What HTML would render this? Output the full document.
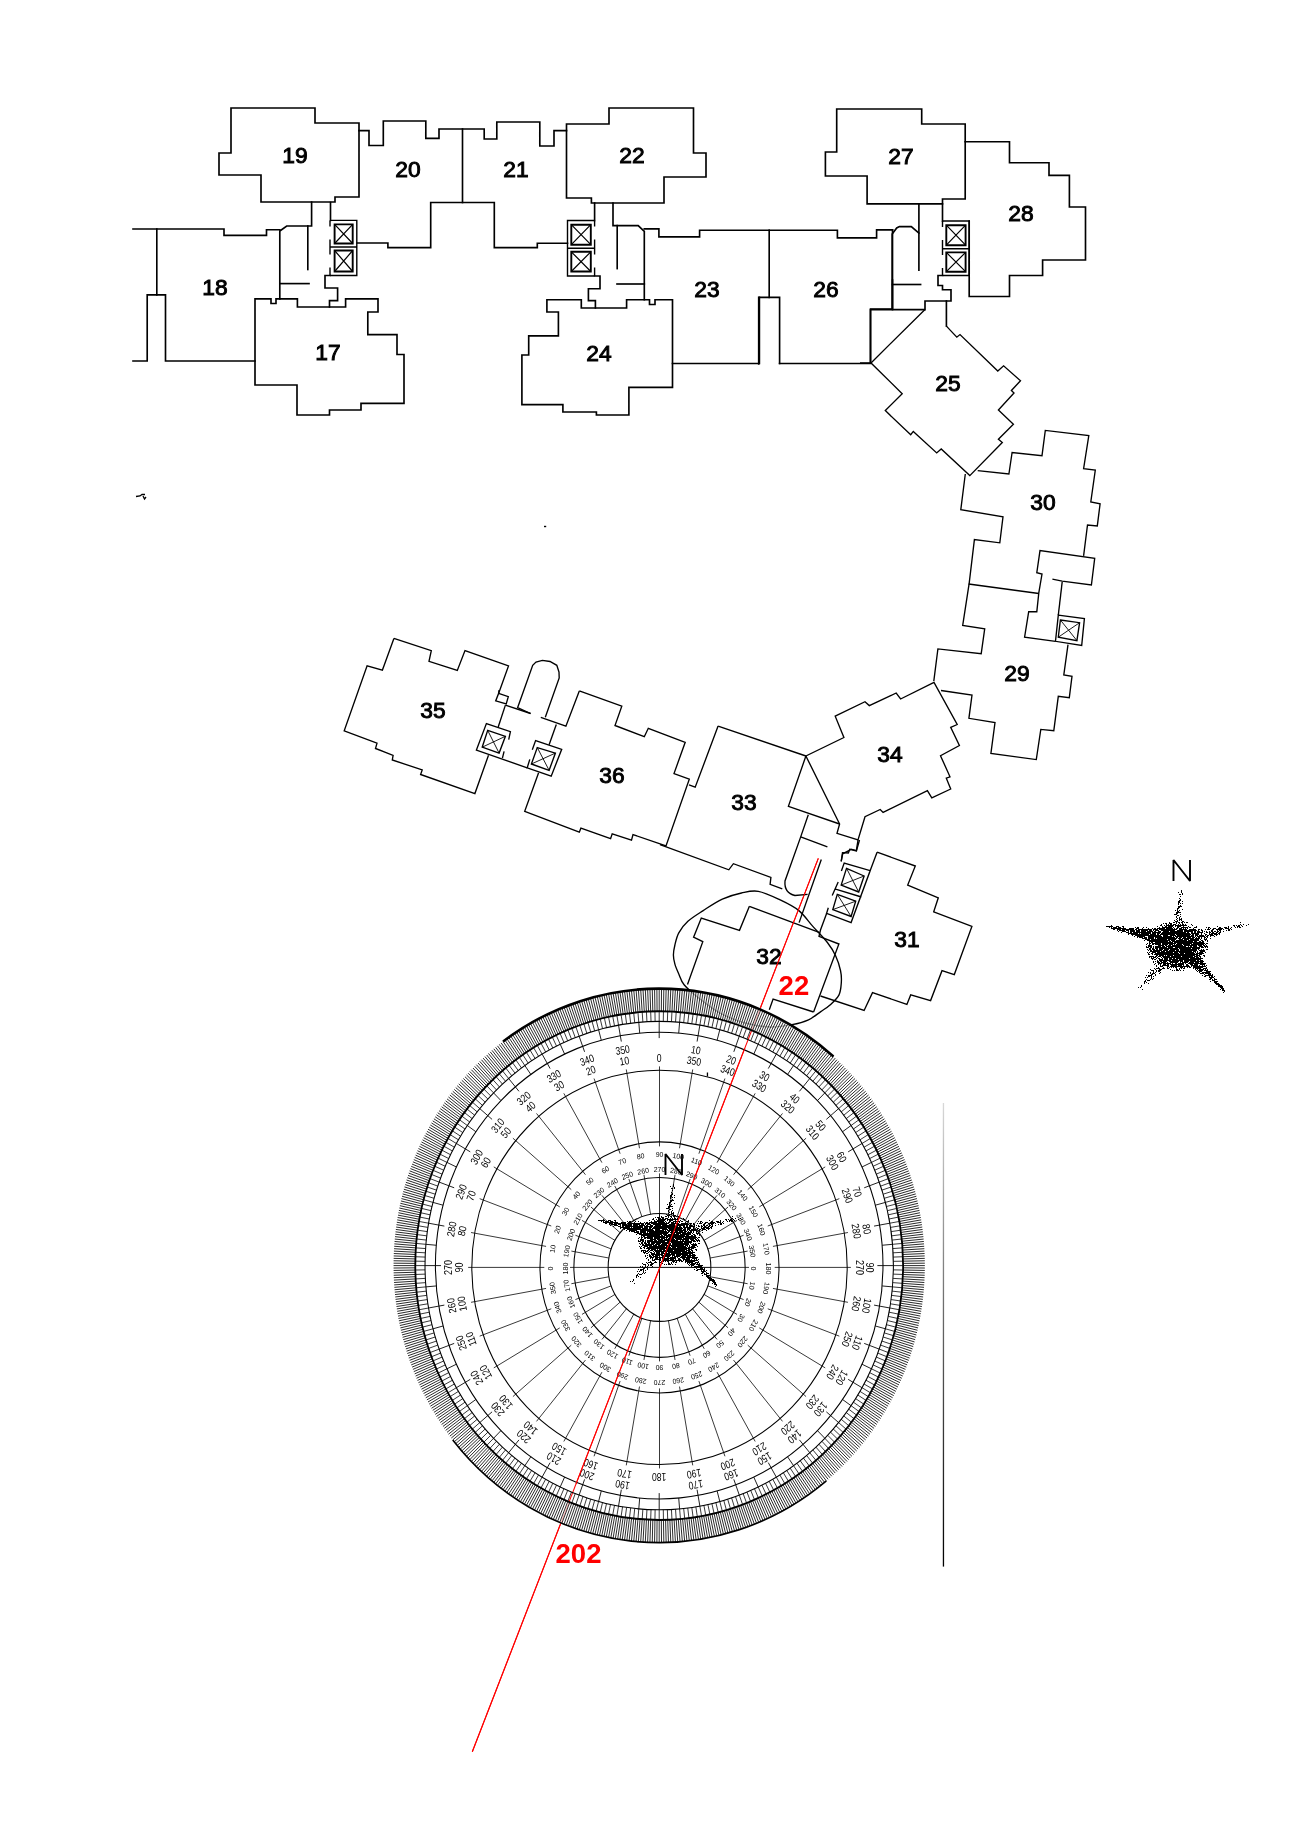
<!DOCTYPE html>
<html><head><meta charset="utf-8"><style>
html,body{margin:0;padding:0;background:#fff;}
body{width:1308px;height:1824px;position:relative;overflow:hidden;font-family:"Liberation Sans",sans-serif;}
</style></head><body>
<svg width="1308" height="1824" viewBox="0 0 1308 1824" style="position:absolute;left:0;top:0;will-change:transform"><defs><linearGradient id="vg" x1="0" y1="0" x2="0" y2="1"><stop offset="0" stop-color="#d8d8d8"/><stop offset="0.45" stop-color="#6a6a6a"/><stop offset="1" stop-color="#000"/></linearGradient></defs><path d="M818.3,858.4 L472.3,1751.7" stroke="#ff0000" stroke-width="1.05" fill="none"/><g fill="none" stroke="#000" stroke-width="1.65" stroke-linejoin="miter" stroke-linecap="square"><path d="M231,108 H315 V123 H359 V197 H335 V202 H261 V175 H219 V153 H231 Z"/><path d="M359,130.6 H369 V145.5 H383.3 V121 H425.8 V138.3 H439 V129 H484.2 V139 H496.8 V122 H539.8 V146 H554 V130.6 H566.5"/><path d="M462.5,129 V202.5"/><path d="M357.3,243 H387.9 V247.6 H430.7 V202.5 H494.3 V247.6 H537.3 V243.2 H567.5"/><path d="M566.5,124 H609 V108 H693.5 V153 H706 V177 H664 V203 H591.4 V198 H566.5 Z"/><path d="M311.6,202 V226 H286.7 L279.8,231 V298.8"/><path d="M133,229 H224 V235.4 H266.5 V229.7 H279.8"/><path d="M156.8,229 V294.9"/><path d="M133,361 H147.2 V294.9 H165.5 V361 H255"/><path d="M307.8,226 V269.5"/><path d="M280,283.6 H309"/><path d="M330.5,202.5 V220.4"/><path d="M255,298.8 V385 H297 V415 H329.5 V410 H361 V403.4 H404 V354.5 H397 V334.6 H367.8 V312 H378 V298.8 H345.6 V307 H297.4 V298.8 H276 V303.5 H271 V298.8 H255"/><path d="M329.5,307 V300.6 H337.6 V288 H325 V275.5 H330"/><path d="M594.6,203 V220.5"/><path d="M613,203 V225.6 H638.2 L644.3,231.4 V299.7"/><path d="M617.2,225.6 V268.6"/><path d="M617,284 H644.3"/><path d="M594.6,276 H600 V288.7 H588.4 V300.6 H595.4 V308"/><path d="M546.9,299.7 H581.3 V308 H626.6 V299.7 H649.5 V304.5 H655 V299.7 H672.5 V387.4 H628.9 V415 H596.4 V412 H562.9 V404.6 H521.9 V355 H528.7 V335.8 H558.4 V312 H546.9 Z"/><path d="M672.5,363.5 H759.4 V297.4"/><path d="M644.3,228.9 H658.9 V236.8 H699.6 V230.2 H837.4 V237.8 H876.6 V229.8 H892.5"/><path d="M769.2,230.2 V297.4"/><path d="M758.7,364 V297.4 H779.6 V363.5"/><path d="M779.6,363.5 H870.6 V309 H892.5 V229.8"/><path d="M892.5,284.5 H920.6"/><path d="M836.7,109 H921.7 V124 H965.2 V199 H942.5 V203.8 H867.1 V176 H825.4 V152 H836.7 Z"/><path d="M965.2,141.7 H1009.5 V162.7 H1049 V175.4 H1069.4 V207 H1085.5 V260 H1042.6 V275.5 H1009.5 V296.5 H969.2 V221"/><path d="M942.5,203.8 V221"/><path d="M918.9,203.8 V270.2"/><path d="M892.2,309 V234 L896.7,228 L899.4,226.6 H911.3 L918.9,233.2"/><path d="M942.5,275.5 H938 V285.5 H942.5 V289.7 H951 V301 H925 V309.6 H870.4 V363"/><path d="M946.4,301 V326.1"/><path d="M892.5,280 V309.6"/></g><g fill="none" stroke="#000" stroke-width="1.4" stroke-linecap="butt"><path d="M330,220.4 H356.8 V275.5 H330 M330,220.4 V226.4 M330,239.4 V254.4 M330,267.4 V275.5 M330,247.0 H356.8"/><path d="M594.6,220.5 H567.5 V276 H594.6 M594.6,220.5 V226.5 M594.6,239.5 V254.5 M594.6,267.5 V276 M567.5,248.25 H594.6"/><path d="M942.5,221 H969.2 V275.5 H942.5 M942.5,221 V227 M942.5,240 V255 M942.5,268 V275.5 M942.5,248.8 H969.2"/></g><g fill="none" stroke="#000" stroke-width="1.9"><path d="M334.6,224.4 H352.7 V243.5 H334.6 Z"/><path d="M334.6,250.5 H352.7 V271.5 H334.6 Z"/><path d="M571.3,224.7 H590.8 V244.7 H571.3 Z"/><path d="M571.3,251.8 H590.8 V271.5 H571.3 Z"/><path d="M946.3,225.2 H965.6 V245.2 H946.3 Z"/><path d="M946.3,252.4 H965.6 V271.7 H946.3 Z"/></g><g fill="none" stroke="#000" stroke-width="1.2" ><path d="M334.6,224.4 L352.7,243.5 M352.7,224.4 L334.6,243.5"/><path d="M334.6,250.5 L352.7,271.5 M352.7,250.5 L334.6,271.5"/><path d="M571.3,224.7 L590.8,244.7 M590.8,224.7 L571.3,244.7"/><path d="M571.3,251.8 L590.8,271.5 M590.8,251.8 L571.3,271.5"/><path d="M946.3,225.2 L965.6,245.2 M965.6,225.2 L946.3,245.2"/><path d="M946.3,252.4 L965.6,271.7 M965.6,252.4 L946.3,271.7"/></g><g fill="none" stroke="#000" stroke-width="1.35" stroke-linejoin="miter"><path d="M871,362.9 L925,309.6 M946.4,326.1 L956.8,337.2 L960,334.6 L997.8,371 L1003.6,365.8 L1020.5,380.7 L1011.4,390.5 L1014,393 L998.4,410 L1013.4,424.3 L998.4,439.2 L1002.3,442.5 L969.8,475.6 L941.2,449 L936.7,452.9 L913.3,431.4 L910.7,434.7 L885.3,410.6 L902.2,393.7 L871,362.9 H860"/><path d="M965.3,474 L960.8,509.7 L1003,516.8 L999.8,542.8 L974.4,539.6 L969.2,583.1 L962.7,625.5 L984.7,628.9 L981.2,653.7 L937.9,648.9 L933.8,681.2"/><path d="M977.7,470.7 L1008.9,474 L1012.1,452.5 L1042,455.7 L1045.3,430.4 L1088.8,435.6 L1083.6,468.7 L1095.3,470 L1090.8,501.9 L1100.1,503.8 L1097.3,525.9 L1087.5,525 L1083.6,555.8"/><path d="M1052.4,579.2 L1062.2,581.2 L1091.4,585 L1094.7,558.4 L1040,550.6 L1036.8,572.7 L1042,574 L1038.8,592.9 L1036.8,611.7 L1028.7,611.7 L1024.6,637.2 L1055.5,641.3"/><path d="M968.6,584 L1038.8,593.5"/><path d="M1062.2,581.8 L1058.3,615.1"/><path d="M1068,644.7 L1063.8,675 L1072,676.4 L1069.3,697.7 L1058.3,696.3 L1053.8,730.7 L1040.8,729.4 L1036.3,759.6 L990.9,753.4 L995,722.5 L968.9,718.3 L972,695 L941,690.5"/><path d="M934,682.3 L900.6,699 L896.2,693 L869.3,705.6 L865,701.7 L835.2,716.2 L843.9,737.5 L805.9,756 L839.6,824 L837,833.4 L858,840 L865,816.7 L880.2,809.5 L883.1,812.4 L927.4,790.6 L931.8,797.8 L950.7,789 L946.3,778.2 L950,776.8 L940.5,755.7 L959.4,745.5 L950.7,727.4 L957.2,724.5 Z"/><path d="M858,840 L856.3,850.9 L849.7,849.4 L848.3,853 L842.5,852.7 L841.2,861.4"/><path d="M718.1,726.1 L805.9,756"/><path d="M805.9,756 L788.4,806.3 L839.6,824"/><path d="M808.3,814.7 L800.7,836.9 L785,881 Q784,893 795,895.5 L807.6,894.3"/><path d="M800.7,836.9 L827.4,846.9"/><path d="M821.3,859.5 L799.1,922.6"/><path d="M718.1,726.1 L695.2,787.2 L689,784.9"/><path d="M660,844.6 L728.8,869.8 L733.4,863.7 L770.9,877.4 L770.1,884.3 L782.3,888.9"/><path d="M579.3,690.9 L621.8,706.2 L615,725.5 L644.3,736.7 L648.3,728.3 L685.2,742.3 L674,773.6 L689.3,779.2 L666,845.9 L633,834.6 L631.5,840.2 L612.2,833.8 L610.6,838.6 L580.9,828.2 L579.3,832.2 L524.7,811.3 L538.6,772.8"/><path d="M540.8,717.4 L565.9,726.2 L579.3,690.9"/><path d="M556.3,724.5 L549.1,744.7"/><path d="M545.3,717.3 L559.2,678 L559,672 L556.8,665.3 L550,661.5 L542.4,660.4 L536,662 L532.7,665.3 L517.6,707.7 L530.6,713.5"/><path d="M393.9,638.4 L431.3,650.6 L429,661.3 L457.3,670.5 L465,650.6 L508.5,665.9 L498.6,693.4"/><path d="M498.6,693.4 L508.3,696.7 L506.2,703.9 L495.7,700.9 Z"/><path d="M505.4,705.1 L498.2,727"/><path d="M505.4,705.1 L530.6,713.5"/><path d="M508.7,739.6 L510.4,731.6 L486.4,723.6 L476.4,750.1 L527.2,767.8"/><path d="M504.1,751.4 L502.4,758.1"/><path d="M488.5,755.2 L474.9,793.6 L420.6,774.5 L422.2,769.9 L392.3,760 L393.1,755.4 L375.5,748.5 L377,743.1 L344.2,730.9 L367.1,665.9 L382.4,670.1 L393.9,638.4"/><path d="M499.1,690 L498.6,693.4"/><path d="M532.3,749.7 L535.6,740.5 L561.7,749.3 L551.2,776.2 L527.2,767.8 L529.8,759.4"/><path d="M877.1,852.2 L915.3,866 L907.7,885.1 L938.3,897.8 L933.7,911.9 L971.9,926.4 L954.3,974.6 L942,970.7 L930.6,1000.6 L910.7,994.9 L906.9,1004.4 L872.5,992.6 L864.1,1010.5 L820.5,996"/><path d="M877.1,852.2 L870.2,870.6"/><path d="M841.4,871 L844.2,863 L870.2,870.6 L851.1,922.6 L826.6,913.4 L828.3,907.7 M832.2,895.6 L838.2,881.9 M835.6,889.2 L861.4,897"/><path d="M826.6,913.4 L820.5,930 L819,936.4 L838.9,944 L813.6,1012"/><path d="M841.2,861.4 L842.7,853.8 L848.8,850.7 L851.1,849.2 L856.5,850.7 L859.5,840"/><path d="M749.4,906.3 L819.8,932.6"/><path d="M749.4,906.3 L739.5,930.3 L701.3,918 L693.6,937.2 L702.8,941.7 L687.5,984.6"/><path d="M813.6,1012 L773.1,999 L769.3,1009.8"/><path d="M1058.3,615.1 L1084.4,618.6 L1081.7,645.4 L1055.5,641.3 Z"/><path d="M1060.4,620.0 L1079.6,622.7 L1076.9,640.6 L1058.3,637.2 Z"/><path d="M487.7,730.4 L505.4,736.3 L499.1,753.1 L482.2,747.2 Z"/><path d="M537.3,747.6 L555.4,753.1 L549.1,770.3 L531.4,764.0 Z"/><path d="M846.5,868.3 L864.1,876.0 L858.7,892.0 L841.2,885.1 Z"/><path d="M837.3,894.3 L855.7,901.2 L851.1,916.5 L832.8,909.6 Z"/><path d="M758.3,891.3C764.7,892.4 773.0,896.5 779.7,899.7C786.4,902.9 793.1,906.0 798.6,910.4C804.1,914.8 807.8,920.8 812.6,926.1C817.4,931.5 823.6,937.6 827.4,942.5C831.2,947.4 833.4,951.0 835.6,955.7C837.8,960.4 839.5,966.0 840.5,970.5C841.5,975.0 841.6,978.7 841.3,982.8C841.0,986.9 840.8,991.4 838.9,995.1C837.0,998.8 833.0,1002.2 830,1005C827.0,1007.8 824.4,1009.1 820.8,1011.6C817.2,1014.1 813.3,1017.6 808.5,1019.8C803.7,1022.0 798.4,1023.5 792,1024.7C785.6,1025.9 777.8,1027.3 770,1027C762.2,1026.7 753.3,1025.3 745,1023C736.7,1020.7 727.5,1017.0 720,1013C712.5,1009.0 706.0,1003.7 700,999C694.0,994.3 687.6,988.9 684.1,984.7C680.6,980.5 680.3,977.4 678.8,974C677.3,970.6 675.8,967.3 674.9,964.1C674.0,960.9 673.4,958.1 673.4,954.9C673.4,951.7 674.0,948.7 674.9,945C675.8,941.3 676.6,936.8 678.8,932.8C681.0,928.8 683.8,925.0 687.9,921.3C692.0,917.6 697.5,914.3 703.2,910.6C708.9,906.9 715.9,902.0 722.3,899.1C728.7,896.2 735.5,894.3 741.5,893C747.5,891.7 751.9,890.2 758.3,891.3Z"/></g><g fill="none" stroke="#000" stroke-width="0.9"><path d="M1060.4,620.0 L1076.9,640.6 M1079.6,622.7 L1058.3,637.2"/><path d="M487.7,730.4 L499.1,753.1 M505.4,736.3 L482.2,747.2"/><path d="M537.3,747.6 L549.1,770.3 M555.4,753.1 L531.4,764.0"/><path d="M846.5,868.3 L858.7,892.0 M864.1,876.0 L841.2,885.1"/><path d="M837.3,894.3 L851.1,916.5 M855.7,901.2 L832.8,909.6"/></g><path d="M136,496.5 L140,496 L142,494.5 L145,494.5 M143,496 L144.5,499 L146,497" stroke="#000" stroke-width="1.3" fill="none"/><rect x="544" y="525.8" width="2.2" height="1.4" fill="#000"/><rect x="706.8" y="1072.5" width="1.3" height="4" fill="#000"/><g font-family="Liberation Sans, sans-serif" font-size="22.8" fill="#000" text-anchor="middle" stroke="#000" stroke-width="0.95"><text x="295" y="163.2">19</text><text x="408" y="177.2">20</text><text x="516" y="177.2">21</text><text x="632" y="163.2">22</text><text x="215" y="295.2">18</text><text x="328" y="360.2">17</text><text x="599" y="361.2">24</text><text x="707" y="297.2">23</text><text x="826" y="297.2">26</text><text x="901" y="164.2">27</text><text x="1021" y="221.2">28</text><text x="948" y="391.2">25</text><text x="1043" y="510.2">30</text><text x="1017" y="681.2">29</text><text x="433" y="718.2">35</text><text x="612" y="783.2">36</text><text x="744" y="810.2">33</text><text x="890" y="762.2">34</text><text x="907" y="947.2">31</text><text x="769" y="964.2">32</text></g><g transform="translate(659.2,1265.6) scale(0.959,1)" fill="none" stroke="#000"><circle r="265.7" stroke="#fff" stroke-opacity="0.7" stroke-width="22.6"/><path stroke-width="0.85" d="M0.00,-254.35L0.00,-277.00M2.22,-254.34L2.42,-276.99M4.44,-254.31L4.83,-276.96M6.66,-254.26L7.25,-276.91M8.88,-254.20L9.67,-276.83M11.09,-254.11L12.08,-276.74M13.31,-254.00L14.50,-276.62M15.53,-253.88L16.91,-276.48M17.74,-253.73L19.32,-276.33M19.96,-253.57L21.73,-276.15M22.17,-253.38L24.14,-275.95M24.38,-253.18L26.55,-275.72M26.59,-252.96L28.95,-275.48M28.79,-252.72L31.36,-275.22M31.00,-252.45L33.76,-274.94M33.20,-252.17L36.16,-274.63M35.40,-251.87L38.55,-274.30M37.60,-251.56L40.94,-273.96M39.79,-251.22L43.33,-273.59M41.98,-250.86L45.72,-273.20M44.17,-250.49L48.10,-272.79M46.35,-250.09L50.48,-272.36M48.53,-249.68L52.85,-271.91M50.71,-249.24L55.22,-271.44M52.88,-248.79L57.59,-270.95M55.05,-248.32L59.95,-270.43M57.22,-247.83L62.31,-269.90M59.38,-247.32L64.66,-269.35M61.53,-246.79L67.01,-268.77M63.68,-246.25L69.36,-268.18M65.83,-245.68L71.69,-267.56M67.97,-245.10L74.03,-266.93M70.11,-244.50L76.35,-266.27M72.24,-243.88L78.67,-265.59M74.36,-243.24L80.99,-264.90M76.48,-242.58L83.30,-264.18M78.60,-241.90L85.60,-263.44M80.71,-241.21L87.89,-262.69M82.81,-240.49L90.18,-261.91M84.90,-239.76L92.46,-261.11M86.99,-239.01L94.74,-260.29M89.08,-238.24L97.01,-259.46M91.15,-237.46L99.27,-258.60M93.22,-236.65L101.52,-257.73M95.28,-235.83L103.77,-256.83M97.34,-234.99L106.00,-255.91M99.38,-234.13L108.23,-254.98M101.42,-233.25L110.45,-254.03M103.45,-232.36L112.67,-253.05M105.48,-231.45L114.87,-252.06M107.49,-230.52L117.07,-251.05M109.50,-229.57L119.25,-250.02M111.50,-228.61L121.43,-248.97M113.49,-227.63L123.60,-247.90M115.47,-226.63L125.76,-246.81M117.45,-225.61L127.90,-245.70M119.41,-224.58L130.04,-244.58M121.37,-223.53L132.17,-243.43M123.31,-222.46L134.29,-242.27M125.25,-221.37L136.40,-241.09M127.17,-220.27L138.50,-239.89M129.09,-219.16L140.59,-238.67M131.00,-218.02L142.67,-237.44M132.90,-216.87L144.73,-236.18M134.78,-215.70L146.79,-234.91M136.66,-214.52L148.83,-233.62M138.53,-213.32L150.87,-232.31M140.39,-212.10L152.89,-230.99M142.23,-210.87L154.90,-229.64M144.07,-209.62L156.89,-228.28M145.89,-208.35L158.88,-226.91M147.70,-207.07L160.85,-225.51M149.50,-205.77L162.82,-224.10M151.29,-204.46L164.77,-222.67M153.07,-203.13L166.70,-221.22M154.84,-201.79L168.63,-219.76M156.59,-200.43L170.54,-218.28M158.34,-199.06L172.44,-216.78M160.07,-197.67L174.32,-215.27M161.79,-196.26L176.19,-213.74M163.49,-194.84L178.05,-212.19M165.19,-193.41L179.90,-210.63M166.87,-191.96L181.73,-209.05M168.54,-190.50L183.55,-207.46M170.19,-189.02L185.35,-205.85M171.84,-187.53L187.14,-204.23M173.47,-186.02L188.91,-202.58M175.08,-184.50L190.67,-200.93M176.69,-182.96L192.42,-199.26M178.28,-181.42L194.15,-197.57M179.85,-179.85L195.87,-195.87M181.42,-178.28L197.57,-194.15M182.96,-176.69L199.26,-192.42M184.50,-175.08L200.93,-190.67M186.02,-173.47L202.58,-188.91M187.53,-171.84L204.23,-187.14M189.02,-170.19L205.85,-185.35M190.50,-168.54L207.46,-183.55M191.96,-166.87L209.05,-181.73M193.41,-165.19L210.63,-179.90M194.84,-163.49L212.19,-178.05M196.26,-161.79L213.74,-176.19M197.67,-160.07L215.27,-174.32M199.06,-158.34L216.78,-172.44M200.43,-156.59L218.28,-170.54M201.79,-154.84L219.76,-168.63M203.13,-153.07L221.22,-166.70M204.46,-151.29L222.67,-164.77M205.77,-149.50L224.10,-162.82M207.07,-147.70L225.51,-160.85M208.35,-145.89L226.91,-158.88M209.62,-144.07L228.28,-156.89M210.87,-142.23L229.64,-154.90M212.10,-140.39L230.99,-152.89M213.32,-138.53L232.31,-150.87M214.52,-136.66L233.62,-148.83M215.70,-134.78L234.91,-146.79M216.87,-132.90L236.18,-144.73M218.02,-131.00L237.44,-142.67M219.16,-129.09L238.67,-140.59M220.27,-127.18L239.89,-138.50M221.37,-125.25L241.09,-136.40M222.46,-123.31L242.27,-134.29M223.53,-121.37L243.43,-132.17M224.58,-119.41L244.58,-130.04M225.61,-117.45L245.70,-127.90M226.63,-115.47L246.81,-125.76M227.63,-113.49L247.90,-123.60M228.61,-111.50L248.97,-121.43M229.57,-109.50L250.02,-119.25M230.52,-107.49L251.05,-117.07M231.45,-105.48L252.06,-114.87M232.36,-103.45L253.05,-112.67M233.25,-101.42L254.03,-110.45M234.13,-99.38L254.98,-108.23M234.99,-97.34L255.91,-106.00M235.83,-95.28L256.83,-103.77M236.65,-93.22L257.73,-101.52M237.46,-91.15L258.60,-99.27M238.24,-89.08L259.46,-97.01M239.01,-86.99L260.29,-94.74M239.76,-84.90L261.11,-92.46M240.49,-82.81L261.91,-90.18M241.21,-80.71L262.69,-87.89M241.90,-78.60L263.44,-85.60M242.58,-76.48L264.18,-83.30M243.24,-74.36L264.90,-80.99M243.88,-72.24L265.59,-78.67M244.50,-70.11L266.27,-76.35M245.10,-67.97L266.93,-74.03M245.68,-65.83L267.56,-71.69M246.25,-63.68L268.18,-69.36M246.79,-61.53L268.77,-67.01M247.32,-59.38L269.35,-64.66M247.83,-57.22L269.90,-62.31M248.32,-55.05L270.43,-59.95M248.79,-52.88L270.95,-57.59M249.24,-50.71L271.44,-55.22M249.68,-48.53L271.91,-52.85M250.09,-46.35L272.36,-50.48M250.49,-44.17L272.79,-48.10M250.86,-41.98L273.20,-45.72M251.22,-39.79L273.59,-43.33M251.56,-37.60L273.96,-40.94M251.87,-35.40L274.30,-38.55M252.17,-33.20L274.63,-36.16M252.45,-31.00L274.94,-33.76M252.72,-28.79L275.22,-31.36M252.96,-26.59L275.48,-28.95M253.18,-24.38L275.72,-26.55M253.38,-22.17L275.95,-24.14M253.57,-19.96L276.15,-21.73M253.73,-17.74L276.33,-19.32M253.88,-15.53L276.48,-16.91M254.00,-13.31L276.62,-14.50M254.11,-11.09L276.74,-12.08M254.20,-8.88L276.83,-9.67M254.26,-6.66L276.91,-7.25M254.31,-4.44L276.96,-4.83M254.34,-2.22L276.99,-2.42M254.35,-0.00L277.00,-0.00M254.34,2.22L276.99,2.42M254.31,4.44L276.96,4.83M254.26,6.66L276.91,7.25M254.20,8.88L276.83,9.67M254.11,11.09L276.74,12.08M254.00,13.31L276.62,14.50M253.88,15.53L276.48,16.91M253.73,17.74L276.33,19.32M253.57,19.96L276.15,21.73M253.38,22.17L275.95,24.14M253.18,24.38L275.72,26.55M252.96,26.59L275.48,28.95M252.72,28.79L275.22,31.36M252.45,31.00L274.94,33.76M252.17,33.20L274.63,36.16M251.87,35.40L274.30,38.55M251.56,37.60L273.96,40.94M251.22,39.79L273.59,43.33M250.86,41.98L273.20,45.72M250.49,44.17L272.79,48.10M250.09,46.35L272.36,50.48M249.68,48.53L271.91,52.85M249.24,50.71L271.44,55.22M248.79,52.88L270.95,57.59M248.32,55.05L270.43,59.95M247.83,57.22L269.90,62.31M247.32,59.38L269.35,64.66M246.79,61.53L268.77,67.01M246.25,63.68L268.18,69.36M245.68,65.83L267.56,71.69M245.10,67.97L266.93,74.03M244.50,70.11L266.27,76.35M243.88,72.24L265.59,78.67M243.24,74.36L264.90,80.99M242.58,76.48L264.18,83.30M241.90,78.60L263.44,85.60M241.21,80.71L262.69,87.89M240.49,82.81L261.91,90.18M239.76,84.90L261.11,92.46M239.01,86.99L260.29,94.74M238.24,89.08L259.46,97.01M237.46,91.15L258.60,99.27M236.65,93.22L257.73,101.52M235.83,95.28L256.83,103.77M234.99,97.34L255.91,106.00M234.13,99.38L254.98,108.23M233.25,101.42L254.03,110.45M232.36,103.45L253.05,112.67M231.45,105.48L252.06,114.87M230.52,107.49L251.05,117.07M229.57,109.50L250.02,119.25M228.61,111.50L248.97,121.43M227.63,113.49L247.90,123.60M226.63,115.47L246.81,125.76M225.61,117.45L245.70,127.90M224.58,119.41L244.58,130.04M223.53,121.37L243.43,132.17M222.46,123.31L242.27,134.29M221.37,125.25L241.09,136.40M220.27,127.17L239.89,138.50M219.16,129.09L238.67,140.59M218.02,131.00L237.44,142.67M216.87,132.90L236.18,144.73M215.70,134.78L234.91,146.79M214.52,136.66L233.62,148.83M213.32,138.53L232.31,150.87M212.10,140.39L230.99,152.89M210.87,142.23L229.64,154.90M209.62,144.07L228.28,156.89M208.35,145.89L226.91,158.88M207.07,147.70L225.51,160.85M205.77,149.50L224.10,162.82M204.46,151.29L222.67,164.77M203.13,153.07L221.22,166.70M201.79,154.84L219.76,168.63M200.43,156.59L218.28,170.54M199.06,158.34L216.78,172.44M197.67,160.07L215.27,174.32M196.26,161.79L213.74,176.19M194.84,163.49L212.19,178.05M193.41,165.19L210.63,179.90M191.96,166.87L209.05,181.73M190.50,168.54L207.46,183.55M189.02,170.19L205.85,185.35M187.53,171.84L204.23,187.14M186.02,173.47L202.58,188.91M184.50,175.08L200.93,190.67M182.96,176.69L199.26,192.42M181.42,178.28L197.57,194.15M179.85,179.85L195.87,195.87M178.28,181.42L194.15,197.57M176.69,182.96L192.42,199.26M175.08,184.50L190.67,200.93M173.47,186.02L188.91,202.58M171.84,187.53L187.14,204.23M170.19,189.02L185.35,205.85M168.54,190.50L183.55,207.46M166.87,191.96L181.73,209.05M165.19,193.41L179.90,210.63M163.49,194.84L178.05,212.19M161.79,196.26L176.19,213.74M160.07,197.67L174.32,215.27M158.34,199.06L172.44,216.78M156.59,200.43L170.54,218.28M154.84,201.79L168.63,219.76M153.07,203.13L166.70,221.22M151.29,204.46L164.77,222.67M149.50,205.77L162.82,224.10M147.70,207.07L160.85,225.51M145.89,208.35L158.88,226.91M144.07,209.62L156.89,228.28M142.23,210.87L154.90,229.64M140.39,212.10L152.89,230.99M138.53,213.32L150.87,232.31M136.66,214.52L148.83,233.62M134.78,215.70L146.79,234.91M132.90,216.87L144.73,236.18M131.00,218.02L142.67,237.44M129.09,219.16L140.59,238.67M127.17,220.27L138.50,239.89M125.25,221.37L136.40,241.09M123.31,222.46L134.29,242.27M121.37,223.53L132.17,243.43M119.41,224.58L130.04,244.58M117.45,225.61L127.90,245.70M115.47,226.63L125.76,246.81M113.49,227.63L123.60,247.90M111.50,228.61L121.43,248.97M109.50,229.57L119.25,250.02M107.49,230.52L117.07,251.05M105.48,231.45L114.87,252.06M103.45,232.36L112.67,253.05M101.42,233.25L110.45,254.03M99.38,234.13L108.23,254.98M97.34,234.99L106.00,255.91M95.28,235.83L103.77,256.83M93.22,236.65L101.52,257.73M91.15,237.46L99.27,258.60M89.08,238.24L97.01,259.46M86.99,239.01L94.74,260.29M84.90,239.76L92.46,261.11M82.81,240.49L90.18,261.91M80.71,241.21L87.89,262.69M78.60,241.90L85.60,263.44M76.48,242.58L83.30,264.18M74.36,243.24L80.99,264.90M72.24,243.88L78.67,265.59M70.11,244.50L76.35,266.27M67.97,245.10L74.03,266.93M65.83,245.68L71.69,267.56M63.68,246.25L69.36,268.18M61.53,246.79L67.01,268.77M59.38,247.32L64.66,269.35M57.22,247.83L62.31,269.90M55.05,248.32L59.95,270.43M52.88,248.79L57.59,270.95M50.71,249.24L55.22,271.44M48.53,249.68L52.85,271.91M46.35,250.09L50.48,272.36M44.17,250.49L48.10,272.79M41.98,250.86L45.72,273.20M39.79,251.22L43.33,273.59M37.60,251.56L40.94,273.96M35.40,251.87L38.55,274.30M33.20,252.17L36.16,274.63M31.00,252.45L33.76,274.94M28.79,252.72L31.36,275.22M26.59,252.96L28.95,275.48M24.38,253.18L26.55,275.72M22.17,253.38L24.14,275.95M19.96,253.57L21.73,276.15M17.74,253.73L19.32,276.33M15.53,253.88L16.91,276.48M13.31,254.00L14.50,276.62M11.09,254.11L12.08,276.74M8.88,254.20L9.67,276.83M6.66,254.26L7.25,276.91M4.44,254.31L4.83,276.96M2.22,254.34L2.42,276.99M0.00,254.35L0.00,277.00M-2.22,254.34L-2.42,276.99M-4.44,254.31L-4.83,276.96M-6.66,254.26L-7.25,276.91M-8.88,254.20L-9.67,276.83M-11.09,254.11L-12.08,276.74M-13.31,254.00L-14.50,276.62M-15.53,253.88L-16.91,276.48M-17.74,253.73L-19.32,276.33M-19.96,253.57L-21.73,276.15M-22.17,253.38L-24.14,275.95M-24.38,253.18L-26.55,275.72M-26.59,252.96L-28.95,275.48M-28.79,252.72L-31.36,275.22M-31.00,252.45L-33.76,274.94M-33.20,252.17L-36.16,274.63M-35.40,251.87L-38.55,274.30M-37.60,251.56L-40.94,273.96M-39.79,251.22L-43.33,273.59M-41.98,250.86L-45.72,273.20M-44.17,250.49L-48.10,272.79M-46.35,250.09L-50.48,272.36M-48.53,249.68L-52.85,271.91M-50.71,249.24L-55.22,271.44M-52.88,248.79L-57.59,270.95M-55.05,248.32L-59.95,270.43M-57.22,247.83L-62.31,269.90M-59.38,247.32L-64.66,269.35M-61.53,246.79L-67.01,268.77M-63.68,246.25L-69.36,268.18M-65.83,245.68L-71.69,267.56M-67.97,245.10L-74.03,266.93M-70.11,244.50L-76.35,266.27M-72.24,243.88L-78.67,265.59M-74.36,243.24L-80.99,264.90M-76.48,242.58L-83.30,264.18M-78.60,241.90L-85.60,263.44M-80.71,241.21L-87.89,262.69M-82.81,240.49L-90.18,261.91M-84.90,239.76L-92.46,261.11M-86.99,239.01L-94.74,260.29M-89.08,238.24L-97.01,259.46M-91.15,237.46L-99.27,258.60M-93.22,236.65L-101.52,257.73M-95.28,235.83L-103.77,256.83M-97.34,234.99L-106.00,255.91M-99.38,234.13L-108.23,254.98M-101.42,233.25L-110.45,254.03M-103.45,232.36L-112.67,253.05M-105.48,231.45L-114.87,252.06M-107.49,230.52L-117.07,251.05M-109.50,229.57L-119.25,250.02M-111.50,228.61L-121.43,248.97M-113.49,227.63L-123.60,247.90M-115.47,226.63L-125.76,246.81M-117.45,225.61L-127.90,245.70M-119.41,224.58L-130.04,244.58M-121.37,223.53L-132.17,243.43M-123.31,222.46L-134.29,242.27M-125.25,221.37L-136.40,241.09M-127.18,220.27L-138.50,239.89M-129.09,219.16L-140.59,238.67M-131.00,218.02L-142.67,237.44M-132.90,216.87L-144.73,236.18M-134.78,215.70L-146.79,234.91M-136.66,214.52L-148.83,233.62M-138.53,213.32L-150.87,232.31M-140.39,212.10L-152.89,230.99M-142.23,210.87L-154.90,229.64M-144.07,209.62L-156.89,228.28M-145.89,208.35L-158.88,226.91M-147.70,207.07L-160.85,225.51M-149.50,205.77L-162.82,224.10M-151.29,204.46L-164.77,222.67M-153.07,203.13L-166.70,221.22M-154.84,201.79L-168.63,219.76M-156.59,200.43L-170.54,218.28M-158.34,199.06L-172.44,216.78M-160.07,197.67L-174.32,215.27M-161.79,196.26L-176.19,213.74M-163.49,194.84L-178.05,212.19M-165.19,193.41L-179.90,210.63M-166.87,191.96L-181.73,209.05M-168.54,190.50L-183.55,207.46M-170.19,189.02L-185.35,205.85M-171.84,187.53L-187.14,204.23M-173.47,186.02L-188.91,202.58M-175.08,184.50L-190.67,200.93M-176.69,182.96L-192.42,199.26M-178.28,181.42L-194.15,197.57M-179.85,179.85L-195.87,195.87M-181.42,178.28L-197.57,194.15M-182.96,176.69L-199.26,192.42M-184.50,175.08L-200.93,190.67M-186.02,173.47L-202.58,188.91M-187.53,171.84L-204.23,187.14M-189.02,170.19L-205.85,185.35M-190.50,168.54L-207.46,183.55M-191.96,166.87L-209.05,181.73M-193.41,165.19L-210.63,179.90M-194.84,163.49L-212.19,178.05M-196.26,161.79L-213.74,176.19M-197.67,160.07L-215.27,174.32M-199.06,158.34L-216.78,172.44M-200.43,156.59L-218.28,170.54M-201.79,154.84L-219.76,168.63M-203.13,153.07L-221.22,166.70M-204.46,151.29L-222.67,164.77M-205.77,149.50L-224.10,162.82M-207.07,147.70L-225.51,160.85M-208.35,145.89L-226.91,158.88M-209.62,144.07L-228.28,156.89M-210.87,142.23L-229.64,154.90M-212.10,140.39L-230.99,152.89M-213.32,138.53L-232.31,150.87M-214.52,136.66L-233.62,148.83M-215.70,134.78L-234.91,146.79M-216.87,132.90L-236.18,144.73M-218.02,131.00L-237.44,142.67M-219.16,129.09L-238.67,140.59M-220.27,127.18L-239.89,138.50M-221.37,125.25L-241.09,136.40M-222.46,123.31L-242.27,134.29M-223.53,121.37L-243.43,132.17M-224.58,119.41L-244.58,130.04M-225.61,117.45L-245.70,127.90M-226.63,115.47L-246.81,125.76M-227.63,113.49L-247.90,123.60M-228.61,111.50L-248.97,121.43M-229.57,109.50L-250.02,119.25M-230.52,107.49L-251.05,117.07M-231.45,105.48L-252.06,114.87M-232.36,103.45L-253.05,112.67M-233.25,101.42L-254.03,110.45M-234.13,99.38L-254.98,108.23M-234.99,97.34L-255.91,106.00M-235.83,95.28L-256.83,103.77M-236.65,93.22L-257.73,101.52M-237.46,91.15L-258.60,99.27M-238.24,89.08L-259.46,97.01M-239.01,86.99L-260.29,94.74M-239.76,84.90L-261.11,92.46M-240.49,82.81L-261.91,90.18M-241.21,80.71L-262.69,87.89M-241.90,78.60L-263.44,85.60M-242.58,76.48L-264.18,83.30M-243.24,74.36L-264.90,80.99M-243.88,72.24L-265.59,78.67M-244.50,70.11L-266.27,76.35M-245.10,67.97L-266.93,74.03M-245.68,65.83L-267.56,71.69M-246.25,63.68L-268.18,69.36M-246.79,61.53L-268.77,67.01M-247.32,59.38L-269.35,64.66M-247.83,57.22L-269.90,62.31M-248.32,55.05L-270.43,59.95M-248.79,52.88L-270.95,57.59M-249.24,50.71L-271.44,55.22M-249.68,48.53L-271.91,52.85M-250.09,46.35L-272.36,50.48M-250.49,44.17L-272.79,48.10M-250.86,41.98L-273.20,45.72M-251.22,39.79L-273.59,43.33M-251.56,37.60L-273.96,40.94M-251.87,35.40L-274.30,38.55M-252.17,33.20L-274.63,36.16M-252.45,31.00L-274.94,33.76M-252.72,28.79L-275.22,31.36M-252.96,26.59L-275.48,28.95M-253.18,24.38L-275.72,26.55M-253.38,22.17L-275.95,24.14M-253.57,19.96L-276.15,21.73M-253.73,17.74L-276.33,19.32M-253.88,15.53L-276.48,16.91M-254.00,13.31L-276.62,14.50M-254.11,11.09L-276.74,12.08M-254.20,8.88L-276.83,9.67M-254.26,6.66L-276.91,7.25M-254.31,4.44L-276.96,4.83M-254.34,2.22L-276.99,2.42M-254.35,0.00L-277.00,0.00M-254.34,-2.22L-276.99,-2.42M-254.31,-4.44L-276.96,-4.83M-254.26,-6.66L-276.91,-7.25M-254.20,-8.88L-276.83,-9.67M-254.11,-11.09L-276.74,-12.08M-254.00,-13.31L-276.62,-14.50M-253.88,-15.53L-276.48,-16.91M-253.73,-17.74L-276.33,-19.32M-253.57,-19.96L-276.15,-21.73M-253.38,-22.17L-275.95,-24.14M-253.18,-24.38L-275.72,-26.55M-252.96,-26.59L-275.48,-28.95M-252.72,-28.79L-275.22,-31.36M-252.45,-31.00L-274.94,-33.76M-252.17,-33.20L-274.63,-36.16M-251.87,-35.40L-274.30,-38.55M-251.56,-37.60L-273.96,-40.94M-251.22,-39.79L-273.59,-43.33M-250.86,-41.98L-273.20,-45.72M-250.49,-44.17L-272.79,-48.10M-250.09,-46.35L-272.36,-50.48M-249.68,-48.53L-271.91,-52.85M-249.24,-50.71L-271.44,-55.22M-248.79,-52.88L-270.95,-57.59M-248.32,-55.05L-270.43,-59.95M-247.83,-57.22L-269.90,-62.31M-247.32,-59.38L-269.35,-64.66M-246.79,-61.53L-268.77,-67.01M-246.25,-63.68L-268.18,-69.36M-245.68,-65.83L-267.56,-71.69M-245.10,-67.97L-266.93,-74.03M-244.50,-70.11L-266.27,-76.35M-243.88,-72.24L-265.59,-78.67M-243.24,-74.36L-264.90,-80.99M-242.58,-76.48L-264.18,-83.30M-241.90,-78.60L-263.44,-85.60M-241.21,-80.71L-262.69,-87.89M-240.49,-82.81L-261.91,-90.18M-239.76,-84.90L-261.11,-92.46M-239.01,-86.99L-260.29,-94.74M-238.24,-89.08L-259.46,-97.01M-237.46,-91.15L-258.60,-99.27M-236.65,-93.22L-257.73,-101.52M-235.83,-95.28L-256.83,-103.77M-234.99,-97.34L-255.91,-106.00M-234.13,-99.38L-254.98,-108.23M-233.25,-101.42L-254.03,-110.45M-232.36,-103.45L-253.05,-112.67M-231.45,-105.48L-252.06,-114.87M-230.52,-107.49L-251.05,-117.07M-229.57,-109.50L-250.02,-119.25M-228.61,-111.50L-248.97,-121.43M-227.63,-113.49L-247.90,-123.60M-226.63,-115.47L-246.81,-125.76M-225.61,-117.45L-245.70,-127.90M-224.58,-119.41L-244.58,-130.04M-223.53,-121.37L-243.43,-132.17M-222.46,-123.31L-242.27,-134.29M-221.37,-125.25L-241.09,-136.40M-220.27,-127.18L-239.89,-138.50M-219.16,-129.09L-238.67,-140.59M-218.02,-131.00L-237.44,-142.67M-216.87,-132.90L-236.18,-144.73M-215.70,-134.78L-234.91,-146.79M-214.52,-136.66L-233.62,-148.83M-213.32,-138.53L-232.31,-150.87M-212.10,-140.39L-230.99,-152.89M-210.87,-142.23L-229.64,-154.90M-209.62,-144.07L-228.28,-156.89M-208.35,-145.89L-226.91,-158.88M-207.07,-147.70L-225.51,-160.85M-205.77,-149.50L-224.10,-162.82M-204.46,-151.29L-222.67,-164.77M-203.13,-153.07L-221.22,-166.70M-201.79,-154.84L-219.76,-168.63M-200.43,-156.59L-218.28,-170.54M-199.06,-158.34L-216.78,-172.44M-197.67,-160.07L-215.27,-174.32M-196.26,-161.79L-213.74,-176.19M-194.84,-163.49L-212.19,-178.05M-193.41,-165.19L-210.63,-179.90M-191.96,-166.87L-209.05,-181.73M-190.50,-168.54L-207.46,-183.55M-189.02,-170.19L-205.85,-185.35M-187.53,-171.84L-204.23,-187.14M-186.02,-173.47L-202.58,-188.91M-184.50,-175.08L-200.93,-190.67M-182.96,-176.69L-199.26,-192.42M-181.42,-178.28L-197.57,-194.15M-179.85,-179.85L-195.87,-195.87M-178.28,-181.42L-194.15,-197.57M-176.69,-182.96L-192.42,-199.26M-175.08,-184.50L-190.67,-200.93M-173.47,-186.02L-188.91,-202.58M-171.84,-187.53L-187.14,-204.23M-170.19,-189.02L-185.35,-205.85M-168.54,-190.50L-183.55,-207.46M-166.87,-191.96L-181.73,-209.05M-165.19,-193.41L-179.90,-210.63M-163.49,-194.84L-178.05,-212.19M-161.79,-196.26L-176.19,-213.74M-160.07,-197.67L-174.32,-215.27M-158.34,-199.06L-172.44,-216.78M-156.59,-200.43L-170.54,-218.28M-154.84,-201.79L-168.63,-219.76M-153.07,-203.13L-166.70,-221.22M-151.29,-204.46L-164.77,-222.67M-149.50,-205.77L-162.82,-224.10M-147.70,-207.07L-160.85,-225.51M-145.89,-208.35L-158.88,-226.91M-144.07,-209.62L-156.89,-228.28M-142.23,-210.87L-154.90,-229.64M-140.39,-212.10L-152.89,-230.99M-138.53,-213.32L-150.87,-232.31M-136.66,-214.52L-148.83,-233.62M-134.78,-215.70L-146.79,-234.91M-132.90,-216.87L-144.73,-236.18M-131.00,-218.02L-142.67,-237.44M-129.09,-219.16L-140.59,-238.67M-127.18,-220.27L-138.50,-239.89M-125.25,-221.37L-136.40,-241.09M-123.31,-222.46L-134.29,-242.27M-121.37,-223.53L-132.17,-243.43M-119.41,-224.58L-130.04,-244.58M-117.45,-225.61L-127.90,-245.70M-115.47,-226.63L-125.76,-246.81M-113.49,-227.63L-123.60,-247.90M-111.50,-228.61L-121.43,-248.97M-109.50,-229.57L-119.25,-250.02M-107.49,-230.52L-117.07,-251.05M-105.48,-231.45L-114.87,-252.06M-103.45,-232.36L-112.67,-253.05M-101.42,-233.25L-110.45,-254.03M-99.38,-234.13L-108.23,-254.98M-97.34,-234.99L-106.00,-255.91M-95.28,-235.83L-103.77,-256.83M-93.22,-236.65L-101.52,-257.73M-91.15,-237.46L-99.27,-258.60M-89.08,-238.24L-97.01,-259.46M-86.99,-239.01L-94.74,-260.29M-84.90,-239.76L-92.46,-261.11M-82.81,-240.49L-90.18,-261.91M-80.71,-241.21L-87.89,-262.69M-78.60,-241.90L-85.60,-263.44M-76.48,-242.58L-83.30,-264.18M-74.36,-243.24L-80.99,-264.90M-72.24,-243.88L-78.67,-265.59M-70.11,-244.50L-76.35,-266.27M-67.97,-245.10L-74.03,-266.93M-65.83,-245.68L-71.69,-267.56M-63.68,-246.25L-69.36,-268.18M-61.53,-246.79L-67.01,-268.77M-59.38,-247.32L-64.66,-269.35M-57.22,-247.83L-62.31,-269.90M-55.05,-248.32L-59.95,-270.43M-52.88,-248.79L-57.59,-270.95M-50.71,-249.24L-55.22,-271.44M-48.53,-249.68L-52.85,-271.91M-46.35,-250.09L-50.48,-272.36M-44.17,-250.49L-48.10,-272.79M-41.98,-250.86L-45.72,-273.20M-39.79,-251.22L-43.33,-273.59M-37.60,-251.56L-40.94,-273.96M-35.40,-251.87L-38.55,-274.30M-33.20,-252.17L-36.16,-274.63M-31.00,-252.45L-33.76,-274.94M-28.79,-252.72L-31.36,-275.22M-26.59,-252.96L-28.95,-275.48M-24.38,-253.18L-26.55,-275.72M-22.17,-253.38L-24.14,-275.95M-19.96,-253.57L-21.73,-276.15M-17.74,-253.73L-19.32,-276.33M-15.53,-253.88L-16.91,-276.48M-13.31,-254.00L-14.50,-276.62M-11.09,-254.11L-12.08,-276.74M-8.88,-254.20L-9.67,-276.83M-6.66,-254.26L-7.25,-276.91M-4.44,-254.31L-4.83,-276.96M-2.22,-254.34L-2.42,-276.99"/><circle r="254.35" stroke-width="1.9"/><path stroke-width="0.8" d="M0.00,-244.20L0.00,-254.35M4.26,-244.16L4.44,-254.31M8.52,-244.05L8.88,-254.20M12.78,-243.87L13.31,-254.00M17.03,-243.61L17.74,-253.73M21.28,-243.27L22.17,-253.38M25.53,-242.86L26.59,-252.96M29.76,-242.38L31.00,-252.45M33.99,-241.82L35.40,-251.87M38.20,-241.19L39.79,-251.22M42.40,-240.49L44.17,-250.49M46.60,-239.71L48.53,-249.68M50.77,-238.86L52.88,-248.79M54.93,-237.94L57.22,-247.83M59.08,-236.95L61.53,-246.79M63.20,-235.88L65.83,-245.68M67.31,-234.74L70.11,-244.50M71.40,-233.53L74.36,-243.24M75.46,-232.25L78.60,-241.90M79.50,-230.90L82.81,-240.49M83.52,-229.47L86.99,-239.01M87.51,-227.98L91.15,-237.46M91.48,-226.42L95.28,-235.83M95.42,-224.79L99.38,-234.13M99.33,-223.09L103.45,-232.36M103.20,-221.32L107.49,-230.52M107.05,-219.49L111.50,-228.61M110.86,-217.58L115.47,-226.63M114.64,-215.62L119.41,-224.58M118.39,-213.58L123.31,-222.46M122.10,-211.48L127.17,-220.27M125.77,-209.32L131.00,-218.02M129.41,-207.09L134.78,-215.70M133.00,-204.80L138.53,-213.32M136.55,-202.45L142.23,-210.87M140.07,-200.04L145.89,-208.35M143.54,-197.56L149.50,-205.77M146.96,-195.03L153.07,-203.13M150.34,-192.43L156.59,-200.43M153.68,-189.78L160.07,-197.67M156.97,-187.07L163.49,-194.84M160.21,-184.30L166.87,-191.96M163.40,-181.48L170.19,-189.02M166.54,-178.60L173.47,-186.02M169.64,-175.66L176.69,-182.96M172.68,-172.68L179.85,-179.85M175.66,-169.64L182.96,-176.69M178.60,-166.54L186.02,-173.47M181.48,-163.40L189.02,-170.19M184.30,-160.21L191.96,-166.87M187.07,-156.97L194.84,-163.49M189.78,-153.68L197.67,-160.07M192.43,-150.34L200.43,-156.59M195.03,-146.96L203.13,-153.07M197.56,-143.54L205.77,-149.50M200.04,-140.07L208.35,-145.89M202.45,-136.55L210.87,-142.23M204.80,-133.00L213.32,-138.53M207.09,-129.41L215.70,-134.78M209.32,-125.77L218.02,-131.00M211.48,-122.10L220.27,-127.18M213.58,-118.39L222.46,-123.31M215.62,-114.64L224.58,-119.41M217.58,-110.86L226.63,-115.47M219.49,-107.05L228.61,-111.50M221.32,-103.20L230.52,-107.49M223.09,-99.33L232.36,-103.45M224.79,-95.42L234.13,-99.38M226.42,-91.48L235.83,-95.28M227.98,-87.51L237.46,-91.15M229.47,-83.52L239.01,-86.99M230.90,-79.50L240.49,-82.81M232.25,-75.46L241.90,-78.60M233.53,-71.40L243.24,-74.36M234.74,-67.31L244.50,-70.11M235.88,-63.20L245.68,-65.83M236.95,-59.08L246.79,-61.53M237.94,-54.93L247.83,-57.22M238.86,-50.77L248.79,-52.88M239.71,-46.60L249.68,-48.53M240.49,-42.40L250.49,-44.17M241.19,-38.20L251.22,-39.79M241.82,-33.99L251.87,-35.40M242.38,-29.76L252.45,-31.00M242.86,-25.53L252.96,-26.59M243.27,-21.28L253.38,-22.17M243.61,-17.03L253.73,-17.74M243.87,-12.78L254.00,-13.31M244.05,-8.52L254.20,-8.88M244.16,-4.26L254.31,-4.44M244.20,-0.00L254.35,-0.00M244.16,4.26L254.31,4.44M244.05,8.52L254.20,8.88M243.87,12.78L254.00,13.31M243.61,17.03L253.73,17.74M243.27,21.28L253.38,22.17M242.86,25.53L252.96,26.59M242.38,29.76L252.45,31.00M241.82,33.99L251.87,35.40M241.19,38.20L251.22,39.79M240.49,42.40L250.49,44.17M239.71,46.60L249.68,48.53M238.86,50.77L248.79,52.88M237.94,54.93L247.83,57.22M236.95,59.08L246.79,61.53M235.88,63.20L245.68,65.83M234.74,67.31L244.50,70.11M233.53,71.40L243.24,74.36M232.25,75.46L241.90,78.60M230.90,79.50L240.49,82.81M229.47,83.52L239.01,86.99M227.98,87.51L237.46,91.15M226.42,91.48L235.83,95.28M224.79,95.42L234.13,99.38M223.09,99.33L232.36,103.45M221.32,103.20L230.52,107.49M219.49,107.05L228.61,111.50M217.58,110.86L226.63,115.47M215.62,114.64L224.58,119.41M213.58,118.39L222.46,123.31M211.48,122.10L220.27,127.17M209.32,125.77L218.02,131.00M207.09,129.41L215.70,134.78M204.80,133.00L213.32,138.53M202.45,136.55L210.87,142.23M200.04,140.07L208.35,145.89M197.56,143.54L205.77,149.50M195.03,146.96L203.13,153.07M192.43,150.34L200.43,156.59M189.78,153.68L197.67,160.07M187.07,156.97L194.84,163.49M184.30,160.21L191.96,166.87M181.48,163.40L189.02,170.19M178.60,166.54L186.02,173.47M175.66,169.64L182.96,176.69M172.68,172.68L179.85,179.85M169.64,175.66L176.69,182.96M166.54,178.60L173.47,186.02M163.40,181.48L170.19,189.02M160.21,184.30L166.87,191.96M156.97,187.07L163.49,194.84M153.68,189.78L160.07,197.67M150.34,192.43L156.59,200.43M146.96,195.03L153.07,203.13M143.54,197.56L149.50,205.77M140.07,200.04L145.89,208.35M136.55,202.45L142.23,210.87M133.00,204.80L138.53,213.32M129.41,207.09L134.78,215.70M125.77,209.32L131.00,218.02M122.10,211.48L127.17,220.27M118.39,213.58L123.31,222.46M114.64,215.62L119.41,224.58M110.86,217.58L115.47,226.63M107.05,219.49L111.50,228.61M103.20,221.32L107.49,230.52M99.33,223.09L103.45,232.36M95.42,224.79L99.38,234.13M91.48,226.42L95.28,235.83M87.51,227.98L91.15,237.46M83.52,229.47L86.99,239.01M79.50,230.90L82.81,240.49M75.46,232.25L78.60,241.90M71.40,233.53L74.36,243.24M67.31,234.74L70.11,244.50M63.20,235.88L65.83,245.68M59.08,236.95L61.53,246.79M54.93,237.94L57.22,247.83M50.77,238.86L52.88,248.79M46.60,239.71L48.53,249.68M42.40,240.49L44.17,250.49M38.20,241.19L39.79,251.22M33.99,241.82L35.40,251.87M29.76,242.38L31.00,252.45M25.53,242.86L26.59,252.96M21.28,243.27L22.17,253.38M17.03,243.61L17.74,253.73M12.78,243.87L13.31,254.00M8.52,244.05L8.88,254.20M4.26,244.16L4.44,254.31M0.00,244.20L0.00,254.35M-4.26,244.16L-4.44,254.31M-8.52,244.05L-8.88,254.20M-12.78,243.87L-13.31,254.00M-17.03,243.61L-17.74,253.73M-21.28,243.27L-22.17,253.38M-25.53,242.86L-26.59,252.96M-29.76,242.38L-31.00,252.45M-33.99,241.82L-35.40,251.87M-38.20,241.19L-39.79,251.22M-42.40,240.49L-44.17,250.49M-46.60,239.71L-48.53,249.68M-50.77,238.86L-52.88,248.79M-54.93,237.94L-57.22,247.83M-59.08,236.95L-61.53,246.79M-63.20,235.88L-65.83,245.68M-67.31,234.74L-70.11,244.50M-71.40,233.53L-74.36,243.24M-75.46,232.25L-78.60,241.90M-79.50,230.90L-82.81,240.49M-83.52,229.47L-86.99,239.01M-87.51,227.98L-91.15,237.46M-91.48,226.42L-95.28,235.83M-95.42,224.79L-99.38,234.13M-99.33,223.09L-103.45,232.36M-103.20,221.32L-107.49,230.52M-107.05,219.49L-111.50,228.61M-110.86,217.58L-115.47,226.63M-114.64,215.62L-119.41,224.58M-118.39,213.58L-123.31,222.46M-122.10,211.48L-127.18,220.27M-125.77,209.32L-131.00,218.02M-129.41,207.09L-134.78,215.70M-133.00,204.80L-138.53,213.32M-136.55,202.45L-142.23,210.87M-140.07,200.04L-145.89,208.35M-143.54,197.56L-149.50,205.77M-146.96,195.03L-153.07,203.13M-150.34,192.43L-156.59,200.43M-153.68,189.78L-160.07,197.67M-156.97,187.07L-163.49,194.84M-160.21,184.30L-166.87,191.96M-163.40,181.48L-170.19,189.02M-166.54,178.60L-173.47,186.02M-169.64,175.66L-176.69,182.96M-172.68,172.68L-179.85,179.85M-175.66,169.64L-182.96,176.69M-178.60,166.54L-186.02,173.47M-181.48,163.40L-189.02,170.19M-184.30,160.21L-191.96,166.87M-187.07,156.97L-194.84,163.49M-189.78,153.68L-197.67,160.07M-192.43,150.34L-200.43,156.59M-195.03,146.96L-203.13,153.07M-197.56,143.54L-205.77,149.50M-200.04,140.07L-208.35,145.89M-202.45,136.55L-210.87,142.23M-204.80,133.00L-213.32,138.53M-207.09,129.41L-215.70,134.78M-209.32,125.77L-218.02,131.00M-211.48,122.10L-220.27,127.18M-213.58,118.39L-222.46,123.31M-215.62,114.64L-224.58,119.41M-217.58,110.86L-226.63,115.47M-219.49,107.05L-228.61,111.50M-221.32,103.20L-230.52,107.49M-223.09,99.33L-232.36,103.45M-224.79,95.42L-234.13,99.38M-226.42,91.48L-235.83,95.28M-227.98,87.51L-237.46,91.15M-229.47,83.52L-239.01,86.99M-230.90,79.50L-240.49,82.81M-232.25,75.46L-241.90,78.60M-233.53,71.40L-243.24,74.36M-234.74,67.31L-244.50,70.11M-235.88,63.20L-245.68,65.83M-236.95,59.08L-246.79,61.53M-237.94,54.93L-247.83,57.22M-238.86,50.77L-248.79,52.88M-239.71,46.60L-249.68,48.53M-240.49,42.40L-250.49,44.17M-241.19,38.20L-251.22,39.79M-241.82,33.99L-251.87,35.40M-242.38,29.76L-252.45,31.00M-242.86,25.53L-252.96,26.59M-243.27,21.28L-253.38,22.17M-243.61,17.03L-253.73,17.74M-243.87,12.78L-254.00,13.31M-244.05,8.52L-254.20,8.88M-244.16,4.26L-254.31,4.44M-244.20,0.00L-254.35,0.00M-244.16,-4.26L-254.31,-4.44M-244.05,-8.52L-254.20,-8.88M-243.87,-12.78L-254.00,-13.31M-243.61,-17.03L-253.73,-17.74M-243.27,-21.28L-253.38,-22.17M-242.86,-25.53L-252.96,-26.59M-242.38,-29.76L-252.45,-31.00M-241.82,-33.99L-251.87,-35.40M-241.19,-38.20L-251.22,-39.79M-240.49,-42.40L-250.49,-44.17M-239.71,-46.60L-249.68,-48.53M-238.86,-50.77L-248.79,-52.88M-237.94,-54.93L-247.83,-57.22M-236.95,-59.08L-246.79,-61.53M-235.88,-63.20L-245.68,-65.83M-234.74,-67.31L-244.50,-70.11M-233.53,-71.40L-243.24,-74.36M-232.25,-75.46L-241.90,-78.60M-230.90,-79.50L-240.49,-82.81M-229.47,-83.52L-239.01,-86.99M-227.98,-87.51L-237.46,-91.15M-226.42,-91.48L-235.83,-95.28M-224.79,-95.42L-234.13,-99.38M-223.09,-99.33L-232.36,-103.45M-221.32,-103.20L-230.52,-107.49M-219.49,-107.05L-228.61,-111.50M-217.58,-110.86L-226.63,-115.47M-215.62,-114.64L-224.58,-119.41M-213.58,-118.39L-222.46,-123.31M-211.48,-122.10L-220.27,-127.18M-209.32,-125.77L-218.02,-131.00M-207.09,-129.41L-215.70,-134.78M-204.80,-133.00L-213.32,-138.53M-202.45,-136.55L-210.87,-142.23M-200.04,-140.07L-208.35,-145.89M-197.56,-143.54L-205.77,-149.50M-195.03,-146.96L-203.13,-153.07M-192.43,-150.34L-200.43,-156.59M-189.78,-153.68L-197.67,-160.07M-187.07,-156.97L-194.84,-163.49M-184.30,-160.21L-191.96,-166.87M-181.48,-163.40L-189.02,-170.19M-178.60,-166.54L-186.02,-173.47M-175.66,-169.64L-182.96,-176.69M-172.68,-172.68L-179.85,-179.85M-169.64,-175.66L-176.69,-182.96M-166.54,-178.60L-173.47,-186.02M-163.40,-181.48L-170.19,-189.02M-160.21,-184.30L-166.87,-191.96M-156.97,-187.07L-163.49,-194.84M-153.68,-189.78L-160.07,-197.67M-150.34,-192.43L-156.59,-200.43M-146.96,-195.03L-153.07,-203.13M-143.54,-197.56L-149.50,-205.77M-140.07,-200.04L-145.89,-208.35M-136.55,-202.45L-142.23,-210.87M-133.00,-204.80L-138.53,-213.32M-129.41,-207.09L-134.78,-215.70M-125.77,-209.32L-131.00,-218.02M-122.10,-211.48L-127.18,-220.27M-118.39,-213.58L-123.31,-222.46M-114.64,-215.62L-119.41,-224.58M-110.86,-217.58L-115.47,-226.63M-107.05,-219.49L-111.50,-228.61M-103.20,-221.32L-107.49,-230.52M-99.33,-223.09L-103.45,-232.36M-95.42,-224.79L-99.38,-234.13M-91.48,-226.42L-95.28,-235.83M-87.51,-227.98L-91.15,-237.46M-83.52,-229.47L-86.99,-239.01M-79.50,-230.90L-82.81,-240.49M-75.46,-232.25L-78.60,-241.90M-71.40,-233.53L-74.36,-243.24M-67.31,-234.74L-70.11,-244.50M-63.20,-235.88L-65.83,-245.68M-59.08,-236.95L-61.53,-246.79M-54.93,-237.94L-57.22,-247.83M-50.77,-238.86L-52.88,-248.79M-46.60,-239.71L-48.53,-249.68M-42.40,-240.49L-44.17,-250.49M-38.20,-241.19L-39.79,-251.22M-33.99,-241.82L-35.40,-251.87M-29.76,-242.38L-31.00,-252.45M-25.53,-242.86L-26.59,-252.96M-21.28,-243.27L-22.17,-253.38M-17.03,-243.61L-17.74,-253.73M-12.78,-243.87L-13.31,-254.00M-8.52,-244.05L-8.88,-254.20M-4.26,-244.16L-4.44,-254.31"/><circle r="244.2" stroke-width="1.1"/><path stroke-width="0.9" d="M0.00,-233.35L0.00,-244.20M20.34,-232.46L21.28,-243.27M40.52,-229.80L42.40,-240.49M60.40,-225.40L63.20,-235.88M79.81,-219.28L83.52,-229.47M98.62,-211.49L103.20,-221.32M116.67,-202.09L122.10,-211.48M133.84,-191.15L140.07,-200.04M149.99,-178.76L156.97,-187.07M165.00,-165.00L172.68,-172.68M178.76,-149.99L187.07,-156.97M191.15,-133.84L200.04,-140.07M202.09,-116.68L211.48,-122.10M211.49,-98.62L221.32,-103.20M219.28,-79.81L229.47,-83.52M225.40,-60.40L235.88,-63.20M229.80,-40.52L240.49,-42.40M232.46,-20.34L243.27,-21.28M233.35,-0.00L244.20,-0.00M232.46,20.34L243.27,21.28M229.80,40.52L240.49,42.40M225.40,60.40L235.88,63.20M219.28,79.81L229.47,83.52M211.49,98.62L221.32,103.20M202.09,116.67L211.48,122.10M191.15,133.84L200.04,140.07M178.76,149.99L187.07,156.97M165.00,165.00L172.68,172.68M149.99,178.76L156.97,187.07M133.84,191.15L140.07,200.04M116.68,202.09L122.10,211.48M98.62,211.49L103.20,221.32M79.81,219.28L83.52,229.47M60.40,225.40L63.20,235.88M40.52,229.80L42.40,240.49M20.34,232.46L21.28,243.27M0.00,233.35L0.00,244.20M-20.34,232.46L-21.28,243.27M-40.52,229.80L-42.40,240.49M-60.40,225.40L-63.20,235.88M-79.81,219.28L-83.52,229.47M-98.62,211.49L-103.20,221.32M-116.68,202.09L-122.10,211.48M-133.84,191.15L-140.07,200.04M-149.99,178.76L-156.97,187.07M-165.00,165.00L-172.68,172.68M-178.76,149.99L-187.07,156.97M-191.15,133.84L-200.04,140.07M-202.09,116.68L-211.48,122.10M-211.49,98.62L-221.32,103.20M-219.28,79.81L-229.47,83.52M-225.40,60.40L-235.88,63.20M-229.80,40.52L-240.49,42.40M-232.46,20.34L-243.27,21.28M-233.35,0.00L-244.20,0.00M-232.46,-20.34L-243.27,-21.28M-229.80,-40.52L-240.49,-42.40M-225.40,-60.40L-235.88,-63.20M-219.28,-79.81L-229.47,-83.52M-211.49,-98.62L-221.32,-103.20M-202.09,-116.67L-211.48,-122.10M-191.15,-133.84L-200.04,-140.07M-178.76,-149.99L-187.07,-156.97M-165.00,-165.00L-172.68,-172.68M-149.99,-178.76L-156.97,-187.07M-133.84,-191.15L-140.07,-200.04M-116.67,-202.09L-122.10,-211.48M-98.62,-211.49L-103.20,-221.32M-79.81,-219.28L-83.52,-229.47M-60.40,-225.40L-63.20,-235.88M-40.52,-229.80L-42.40,-240.49M-20.34,-232.46L-21.28,-243.27"/><circle r="233.35" stroke-width="1.1"/><path stroke-width="0.9" d="M0.00,-227.50L0.00,-233.35M39.50,-224.04L40.52,-229.80M77.81,-213.78L79.81,-219.28M113.75,-197.02L116.67,-202.09M146.23,-174.28L149.99,-178.76M174.28,-146.23L178.76,-149.99M197.02,-113.75L202.09,-116.68M213.78,-77.81L219.28,-79.81M224.04,-39.50L229.80,-40.52M227.50,-0.00L233.35,-0.00M224.04,39.50L229.80,40.52M213.78,77.81L219.28,79.81M197.02,113.75L202.09,116.67M174.28,146.23L178.76,149.99M146.23,174.28L149.99,178.76M113.75,197.02L116.68,202.09M77.81,213.78L79.81,219.28M39.50,224.04L40.52,229.80M0.00,227.50L0.00,233.35M-39.50,224.04L-40.52,229.80M-77.81,213.78L-79.81,219.28M-113.75,197.02L-116.68,202.09M-146.23,174.28L-149.99,178.76M-174.28,146.23L-178.76,149.99M-197.02,113.75L-202.09,116.68M-213.78,77.81L-219.28,79.81M-224.04,39.50L-229.80,40.52M-227.50,0.00L-233.35,0.00M-224.04,-39.50L-229.80,-40.52M-213.78,-77.81L-219.28,-79.81M-197.02,-113.75L-202.09,-116.67M-174.28,-146.23L-178.76,-149.99M-146.23,-174.28L-149.99,-178.76M-113.75,-197.02L-116.67,-202.09M-77.81,-213.78L-79.81,-219.28M-39.50,-224.04L-40.52,-229.80"/><path stroke-width="2.6" d="M-162.82,-224.10 A277.0,277.0 0 0 1 181.73,-209.05"/><path stroke-width="1.7" d="M174.32,215.27 A277.0,277.0 0 0 1 -215.27,174.32"/></g><g transform="translate(659.5,1267.4) scale(0.952,1)" fill="none" stroke="#000"><circle r="197.15" stroke-width="1.1"/><path stroke-width="0.8" d="M0.00,-121.00L0.00,-201.00M0.00,-53.95L0.00,-94.00M21.01,-119.16L34.90,-197.95M9.37,-53.13L16.32,-92.57M41.38,-113.70L68.75,-188.88M18.45,-50.70L32.15,-88.33M60.50,-104.79L100.50,-174.07M26.97,-46.72L47.00,-81.41M77.78,-92.69L129.20,-153.97M34.68,-41.33L60.42,-72.01M92.69,-77.78L153.97,-129.20M41.33,-34.68L72.01,-60.42M104.79,-60.50L174.07,-100.50M46.72,-26.98L81.41,-47.00M113.70,-41.38L188.88,-68.75M50.70,-18.45L88.33,-32.15M119.16,-21.01L197.95,-34.90M53.13,-9.37L92.57,-16.32M121.00,-0.00L201.00,-0.00M53.95,-0.00L94.00,-0.00M119.16,21.01L197.95,34.90M53.13,9.37L92.57,16.32M113.70,41.38L188.88,68.75M50.70,18.45L88.33,32.15M104.79,60.50L174.07,100.50M46.72,26.97L81.41,47.00M92.69,77.78L153.97,129.20M41.33,34.68L72.01,60.42M77.78,92.69L129.20,153.97M34.68,41.33L60.42,72.01M60.50,104.79L100.50,174.07M26.97,46.72L47.00,81.41M41.38,113.70L68.75,188.88M18.45,50.70L32.15,88.33M21.01,119.16L34.90,197.95M9.37,53.13L16.32,92.57M0.00,121.00L0.00,201.00M0.00,53.95L0.00,94.00M-21.01,119.16L-34.90,197.95M-9.37,53.13L-16.32,92.57M-41.38,113.70L-68.75,188.88M-18.45,50.70L-32.15,88.33M-60.50,104.79L-100.50,174.07M-26.98,46.72L-47.00,81.41M-77.78,92.69L-129.20,153.97M-34.68,41.33L-60.42,72.01M-92.69,77.78L-153.97,129.20M-41.33,34.68L-72.01,60.42M-104.79,60.50L-174.07,100.50M-46.72,26.98L-81.41,47.00M-113.70,41.38L-188.88,68.75M-50.70,18.45L-88.33,32.15M-119.16,21.01L-197.95,34.90M-53.13,9.37L-92.57,16.32M-121.00,0.00L-201.00,0.00M-53.95,0.00L-94.00,0.00M-119.16,-21.01L-197.95,-34.90M-53.13,-9.37L-92.57,-16.32M-113.70,-41.38L-188.88,-68.75M-50.70,-18.45L-88.33,-32.15M-104.79,-60.50L-174.07,-100.50M-46.72,-26.98L-81.41,-47.00M-92.69,-77.78L-153.97,-129.20M-41.33,-34.68L-72.01,-60.42M-77.78,-92.69L-129.20,-153.97M-34.68,-41.33L-60.42,-72.01M-60.50,-104.79L-100.50,-174.07M-26.98,-46.72L-47.00,-81.41M-41.38,-113.70L-68.75,-188.88M-18.45,-50.70L-32.15,-88.33M-21.01,-119.16L-34.90,-197.95M-9.37,-53.13L-16.32,-92.57"/><circle r="125.55" stroke-width="1.1"/><circle r="89.95" stroke-width="1.1"/><circle r="53.95" stroke-width="1.1"/><path stroke-width="1" d="M-53.95,0 H53.95 M0,-53.95 V53.95"/></g><g transform="translate(659.2,1267.4) scale(0.955,1)" font-family="Liberation Sans, sans-serif" fill="#000" text-anchor="middle"><g transform="rotate(0) translate(0,-209.8)"><text y="3.9" font-size="11" transform="scale(0.82,1)">0</text></g><g transform="rotate(10) translate(0,-220.8)"><text y="3.9" font-size="11" transform="scale(0.82,1)">10</text></g><g transform="rotate(10) translate(0,-209.7)"><text y="3.9" font-size="11" transform="scale(0.82,1)">350</text></g><g transform="rotate(20) translate(0,-220.8)"><text y="3.9" font-size="11" transform="scale(0.82,1)">20</text></g><g transform="rotate(20) translate(0,-209.7)"><text y="3.9" font-size="11" transform="scale(0.82,1)">340</text></g><g transform="rotate(30) translate(0,-220.8)"><text y="3.9" font-size="11" transform="scale(0.82,1)">30</text></g><g transform="rotate(30) translate(0,-209.7)"><text y="3.9" font-size="11" transform="scale(0.82,1)">330</text></g><g transform="rotate(40) translate(0,-220.8)"><text y="3.9" font-size="11" transform="scale(0.82,1)">40</text></g><g transform="rotate(40) translate(0,-209.7)"><text y="3.9" font-size="11" transform="scale(0.82,1)">320</text></g><g transform="rotate(50) translate(0,-220.8)"><text y="3.9" font-size="11" transform="scale(0.82,1)">50</text></g><g transform="rotate(50) translate(0,-209.7)"><text y="3.9" font-size="11" transform="scale(0.82,1)">310</text></g><g transform="rotate(60) translate(0,-220.8)"><text y="3.9" font-size="11" transform="scale(0.82,1)">60</text></g><g transform="rotate(60) translate(0,-209.7)"><text y="3.9" font-size="11" transform="scale(0.82,1)">300</text></g><g transform="rotate(70) translate(0,-220.8)"><text y="3.9" font-size="11" transform="scale(0.82,1)">70</text></g><g transform="rotate(70) translate(0,-209.7)"><text y="3.9" font-size="11" transform="scale(0.82,1)">290</text></g><g transform="rotate(80) translate(0,-220.8)"><text y="3.9" font-size="11" transform="scale(0.82,1)">80</text></g><g transform="rotate(80) translate(0,-209.7)"><text y="3.9" font-size="11" transform="scale(0.82,1)">280</text></g><g transform="rotate(90) translate(0,-220.8)"><text y="3.9" font-size="11" transform="scale(0.82,1)">90</text></g><g transform="rotate(90) translate(0,-209.7)"><text y="3.9" font-size="11" transform="scale(0.82,1)">270</text></g><g transform="rotate(100) translate(0,-220.8)"><text y="3.9" font-size="11" transform="scale(0.82,1)">100</text></g><g transform="rotate(100) translate(0,-209.7)"><text y="3.9" font-size="11" transform="scale(0.82,1)">260</text></g><g transform="rotate(110) translate(0,-220.8)"><text y="3.9" font-size="11" transform="scale(0.82,1)">110</text></g><g transform="rotate(110) translate(0,-209.7)"><text y="3.9" font-size="11" transform="scale(0.82,1)">250</text></g><g transform="rotate(120) translate(0,-220.8)"><text y="3.9" font-size="11" transform="scale(0.82,1)">120</text></g><g transform="rotate(120) translate(0,-209.7)"><text y="3.9" font-size="11" transform="scale(0.82,1)">240</text></g><g transform="rotate(130) translate(0,-220.8)"><text y="3.9" font-size="11" transform="scale(0.82,1)">130</text></g><g transform="rotate(130) translate(0,-209.7)"><text y="3.9" font-size="11" transform="scale(0.82,1)">230</text></g><g transform="rotate(140) translate(0,-220.8)"><text y="3.9" font-size="11" transform="scale(0.82,1)">140</text></g><g transform="rotate(140) translate(0,-209.7)"><text y="3.9" font-size="11" transform="scale(0.82,1)">220</text></g><g transform="rotate(150) translate(0,-220.8)"><text y="3.9" font-size="11" transform="scale(0.82,1)">150</text></g><g transform="rotate(150) translate(0,-209.7)"><text y="3.9" font-size="11" transform="scale(0.82,1)">210</text></g><g transform="rotate(160) translate(0,-220.8)"><text y="3.9" font-size="11" transform="scale(0.82,1)">160</text></g><g transform="rotate(160) translate(0,-209.7)"><text y="3.9" font-size="11" transform="scale(0.82,1)">200</text></g><g transform="rotate(170) translate(0,-220.8)"><text y="3.9" font-size="11" transform="scale(0.82,1)">170</text></g><g transform="rotate(170) translate(0,-209.7)"><text y="3.9" font-size="11" transform="scale(0.82,1)">190</text></g><g transform="rotate(180) translate(0,-209.8)"><text y="3.9" font-size="11" transform="scale(0.82,1)">180</text></g><g transform="rotate(190) translate(0,-220.8)"><text y="3.9" font-size="11" transform="scale(0.82,1)">190</text></g><g transform="rotate(190) translate(0,-209.7)"><text y="3.9" font-size="11" transform="scale(0.82,1)">170</text></g><g transform="rotate(200) translate(0,-220.8)"><text y="3.9" font-size="11" transform="scale(0.82,1)">200</text></g><g transform="rotate(200) translate(0,-209.7)"><text y="3.9" font-size="11" transform="scale(0.82,1)">160</text></g><g transform="rotate(210) translate(0,-220.8)"><text y="3.9" font-size="11" transform="scale(0.82,1)">210</text></g><g transform="rotate(210) translate(0,-209.7)"><text y="3.9" font-size="11" transform="scale(0.82,1)">150</text></g><g transform="rotate(220) translate(0,-220.8)"><text y="3.9" font-size="11" transform="scale(0.82,1)">220</text></g><g transform="rotate(220) translate(0,-209.7)"><text y="3.9" font-size="11" transform="scale(0.82,1)">140</text></g><g transform="rotate(230) translate(0,-220.8)"><text y="3.9" font-size="11" transform="scale(0.82,1)">230</text></g><g transform="rotate(230) translate(0,-209.7)"><text y="3.9" font-size="11" transform="scale(0.82,1)">130</text></g><g transform="rotate(240) translate(0,-220.8)"><text y="3.9" font-size="11" transform="scale(0.82,1)">240</text></g><g transform="rotate(240) translate(0,-209.7)"><text y="3.9" font-size="11" transform="scale(0.82,1)">120</text></g><g transform="rotate(250) translate(0,-220.8)"><text y="3.9" font-size="11" transform="scale(0.82,1)">250</text></g><g transform="rotate(250) translate(0,-209.7)"><text y="3.9" font-size="11" transform="scale(0.82,1)">110</text></g><g transform="rotate(260) translate(0,-220.8)"><text y="3.9" font-size="11" transform="scale(0.82,1)">260</text></g><g transform="rotate(260) translate(0,-209.7)"><text y="3.9" font-size="11" transform="scale(0.82,1)">100</text></g><g transform="rotate(270) translate(0,-220.8)"><text y="3.9" font-size="11" transform="scale(0.82,1)">270</text></g><g transform="rotate(270) translate(0,-209.7)"><text y="3.9" font-size="11" transform="scale(0.82,1)">90</text></g><g transform="rotate(280) translate(0,-220.8)"><text y="3.9" font-size="11" transform="scale(0.82,1)">280</text></g><g transform="rotate(280) translate(0,-209.7)"><text y="3.9" font-size="11" transform="scale(0.82,1)">80</text></g><g transform="rotate(290) translate(0,-220.8)"><text y="3.9" font-size="11" transform="scale(0.82,1)">290</text></g><g transform="rotate(290) translate(0,-209.7)"><text y="3.9" font-size="11" transform="scale(0.82,1)">70</text></g><g transform="rotate(300) translate(0,-220.8)"><text y="3.9" font-size="11" transform="scale(0.82,1)">300</text></g><g transform="rotate(300) translate(0,-209.7)"><text y="3.9" font-size="11" transform="scale(0.82,1)">60</text></g><g transform="rotate(310) translate(0,-220.8)"><text y="3.9" font-size="11" transform="scale(0.82,1)">310</text></g><g transform="rotate(310) translate(0,-209.7)"><text y="3.9" font-size="11" transform="scale(0.82,1)">50</text></g><g transform="rotate(320) translate(0,-220.8)"><text y="3.9" font-size="11" transform="scale(0.82,1)">320</text></g><g transform="rotate(320) translate(0,-209.7)"><text y="3.9" font-size="11" transform="scale(0.82,1)">40</text></g><g transform="rotate(330) translate(0,-220.8)"><text y="3.9" font-size="11" transform="scale(0.82,1)">330</text></g><g transform="rotate(330) translate(0,-209.7)"><text y="3.9" font-size="11" transform="scale(0.82,1)">30</text></g><g transform="rotate(340) translate(0,-220.8)"><text y="3.9" font-size="11" transform="scale(0.82,1)">340</text></g><g transform="rotate(340) translate(0,-209.7)"><text y="3.9" font-size="11" transform="scale(0.82,1)">20</text></g><g transform="rotate(350) translate(0,-220.8)"><text y="3.9" font-size="11" transform="scale(0.82,1)">350</text></g><g transform="rotate(350) translate(0,-209.7)"><text y="3.9" font-size="11" transform="scale(0.82,1)">10</text></g></g><g transform="translate(659.5,1268.5) scale(0.952,1)" font-family="Liberation Sans, sans-serif" fill="#000" text-anchor="middle"><g transform="rotate(0) translate(0,-114)"><text y="2.6" font-size="7.3">90</text></g><g transform="rotate(0) translate(0,-99)"><text y="2.6" font-size="7.3">270</text></g><g transform="rotate(10) translate(0,-114)"><text y="2.6" font-size="7.3">100</text></g><g transform="rotate(10) translate(0,-99)"><text y="2.6" font-size="7.3">280</text></g><g transform="rotate(20) translate(0,-114)"><text y="2.6" font-size="7.3">110</text></g><g transform="rotate(20) translate(0,-99)"><text y="2.6" font-size="7.3">290</text></g><g transform="rotate(30) translate(0,-114)"><text y="2.6" font-size="7.3">120</text></g><g transform="rotate(30) translate(0,-99)"><text y="2.6" font-size="7.3">300</text></g><g transform="rotate(40) translate(0,-114)"><text y="2.6" font-size="7.3">130</text></g><g transform="rotate(40) translate(0,-99)"><text y="2.6" font-size="7.3">310</text></g><g transform="rotate(50) translate(0,-114)"><text y="2.6" font-size="7.3">140</text></g><g transform="rotate(50) translate(0,-99)"><text y="2.6" font-size="7.3">320</text></g><g transform="rotate(60) translate(0,-114)"><text y="2.6" font-size="7.3">150</text></g><g transform="rotate(60) translate(0,-99)"><text y="2.6" font-size="7.3">330</text></g><g transform="rotate(70) translate(0,-114)"><text y="2.6" font-size="7.3">160</text></g><g transform="rotate(70) translate(0,-99)"><text y="2.6" font-size="7.3">340</text></g><g transform="rotate(80) translate(0,-114)"><text y="2.6" font-size="7.3">170</text></g><g transform="rotate(80) translate(0,-99)"><text y="2.6" font-size="7.3">350</text></g><g transform="rotate(90) translate(0,-114)"><text y="2.6" font-size="7.3">180</text></g><g transform="rotate(90) translate(0,-99)"><text y="2.6" font-size="7.3">0</text></g><g transform="rotate(100) translate(0,-114)"><text y="2.6" font-size="7.3">190</text></g><g transform="rotate(100) translate(0,-99)"><text y="2.6" font-size="7.3">10</text></g><g transform="rotate(110) translate(0,-114)"><text y="2.6" font-size="7.3">200</text></g><g transform="rotate(110) translate(0,-99)"><text y="2.6" font-size="7.3">20</text></g><g transform="rotate(120) translate(0,-114)"><text y="2.6" font-size="7.3">210</text></g><g transform="rotate(120) translate(0,-99)"><text y="2.6" font-size="7.3">30</text></g><g transform="rotate(130) translate(0,-114)"><text y="2.6" font-size="7.3">220</text></g><g transform="rotate(130) translate(0,-99)"><text y="2.6" font-size="7.3">40</text></g><g transform="rotate(140) translate(0,-114)"><text y="2.6" font-size="7.3">230</text></g><g transform="rotate(140) translate(0,-99)"><text y="2.6" font-size="7.3">50</text></g><g transform="rotate(150) translate(0,-114)"><text y="2.6" font-size="7.3">240</text></g><g transform="rotate(150) translate(0,-99)"><text y="2.6" font-size="7.3">60</text></g><g transform="rotate(160) translate(0,-114)"><text y="2.6" font-size="7.3">250</text></g><g transform="rotate(160) translate(0,-99)"><text y="2.6" font-size="7.3">70</text></g><g transform="rotate(170) translate(0,-114)"><text y="2.6" font-size="7.3">260</text></g><g transform="rotate(170) translate(0,-99)"><text y="2.6" font-size="7.3">80</text></g><g transform="rotate(180) translate(0,-114)"><text y="2.6" font-size="7.3">270</text></g><g transform="rotate(180) translate(0,-99)"><text y="2.6" font-size="7.3">90</text></g><g transform="rotate(190) translate(0,-114)"><text y="2.6" font-size="7.3">280</text></g><g transform="rotate(190) translate(0,-99)"><text y="2.6" font-size="7.3">100</text></g><g transform="rotate(200) translate(0,-114)"><text y="2.6" font-size="7.3">290</text></g><g transform="rotate(200) translate(0,-99)"><text y="2.6" font-size="7.3">110</text></g><g transform="rotate(210) translate(0,-114)"><text y="2.6" font-size="7.3">300</text></g><g transform="rotate(210) translate(0,-99)"><text y="2.6" font-size="7.3">120</text></g><g transform="rotate(220) translate(0,-114)"><text y="2.6" font-size="7.3">310</text></g><g transform="rotate(220) translate(0,-99)"><text y="2.6" font-size="7.3">130</text></g><g transform="rotate(230) translate(0,-114)"><text y="2.6" font-size="7.3">320</text></g><g transform="rotate(230) translate(0,-99)"><text y="2.6" font-size="7.3">140</text></g><g transform="rotate(240) translate(0,-114)"><text y="2.6" font-size="7.3">330</text></g><g transform="rotate(240) translate(0,-99)"><text y="2.6" font-size="7.3">150</text></g><g transform="rotate(250) translate(0,-114)"><text y="2.6" font-size="7.3">340</text></g><g transform="rotate(250) translate(0,-99)"><text y="2.6" font-size="7.3">160</text></g><g transform="rotate(260) translate(0,-114)"><text y="2.6" font-size="7.3">350</text></g><g transform="rotate(260) translate(0,-99)"><text y="2.6" font-size="7.3">170</text></g><g transform="rotate(270) translate(0,-114)"><text y="2.6" font-size="7.3">0</text></g><g transform="rotate(270) translate(0,-99)"><text y="2.6" font-size="7.3">180</text></g><g transform="rotate(280) translate(0,-114)"><text y="2.6" font-size="7.3">10</text></g><g transform="rotate(280) translate(0,-99)"><text y="2.6" font-size="7.3">190</text></g><g transform="rotate(290) translate(0,-114)"><text y="2.6" font-size="7.3">20</text></g><g transform="rotate(290) translate(0,-99)"><text y="2.6" font-size="7.3">200</text></g><g transform="rotate(300) translate(0,-114)"><text y="2.6" font-size="7.3">30</text></g><g transform="rotate(300) translate(0,-99)"><text y="2.6" font-size="7.3">210</text></g><g transform="rotate(310) translate(0,-114)"><text y="2.6" font-size="7.3">40</text></g><g transform="rotate(310) translate(0,-99)"><text y="2.6" font-size="7.3">220</text></g><g transform="rotate(320) translate(0,-114)"><text y="2.6" font-size="7.3">50</text></g><g transform="rotate(320) translate(0,-99)"><text y="2.6" font-size="7.3">230</text></g><g transform="rotate(330) translate(0,-114)"><text y="2.6" font-size="7.3">60</text></g><g transform="rotate(330) translate(0,-99)"><text y="2.6" font-size="7.3">240</text></g><g transform="rotate(340) translate(0,-114)"><text y="2.6" font-size="7.3">70</text></g><g transform="rotate(340) translate(0,-99)"><text y="2.6" font-size="7.3">250</text></g><g transform="rotate(350) translate(0,-114)"><text y="2.6" font-size="7.3">80</text></g><g transform="rotate(350) translate(0,-99)"><text y="2.6" font-size="7.3">260</text></g></g><g id="star"><path fill="#000" d="M1181 890h1v1h-1zM1181 891h1v1h-1zM1178 892h1v1h-1zM1181 892h1v1h-1zM1182 893h1v1h-1zM1179 894h2v1h-2zM1182 894h1v1h-1zM1180 896h1v1h-1zM1179 898h1v1h-1zM1180 899h1v1h-1zM1179 900h2v1h-2zM1178 901h2v1h-2zM1182 901h1v1h-1zM1178 902h2v1h-2zM1178 903h1v1h-1zM1180 903h1v1h-1zM1182 903h1v1h-1zM1178 904h1v1h-1zM1180 905h1v1h-1zM1178 906h4v1h-4zM1178 907h2v1h-2zM1177 908h2v1h-2zM1177 909h1v1h-1zM1182 909h1v1h-1zM1175 910h1v1h-1zM1177 910h1v1h-1zM1179 910h1v1h-1zM1177 911h2v1h-2zM1176 912h5v1h-5zM1176 913h2v1h-2zM1174 914h3v1h-3zM1180 914h1v1h-1zM1177 915h2v1h-2zM1176 916h1v1h-1zM1180 916h1v1h-1zM1176 917h1v1h-1zM1179 917h1v1h-1zM1177 918h1v1h-1zM1179 918h1v1h-1zM1181 918h1v1h-1zM1176 919h1v1h-1zM1179 919h3v1h-3zM1174 920h1v1h-1zM1177 920h1v1h-1zM1179 920h1v1h-1zM1181 920h1v1h-1zM1175 921h3v1h-3zM1182 921h2v1h-2zM1169 922h1v1h-1zM1173 922h2v1h-2zM1176 922h1v1h-1zM1178 922h2v1h-2zM1181 922h2v1h-2zM1184 922h1v1h-1zM1186 922h2v1h-2zM1240 922h1v1h-1zM1163 923h1v1h-1zM1165 923h2v1h-2zM1169 923h3v1h-3zM1176 923h1v1h-1zM1179 923h1v1h-1zM1182 923h1v1h-1zM1161 924h1v1h-1zM1166 924h1v1h-1zM1168 924h1v1h-1zM1170 924h2v1h-2zM1173 924h3v1h-3zM1178 924h1v1h-1zM1180 924h1v1h-1zM1182 924h2v1h-2zM1185 924h1v1h-1zM1191 924h1v1h-1zM1240 924h1v1h-1zM1243 924h1v1h-1zM1248 924h1v1h-1zM1111 925h1v1h-1zM1160 925h2v1h-2zM1164 925h1v1h-1zM1166 925h8v1h-8zM1175 925h12v1h-12zM1192 925h1v1h-1zM1233 925h2v1h-2zM1236 925h1v1h-1zM1238 925h2v1h-2zM1241 925h1v1h-1zM1246 925h1v1h-1zM1106 926h7v1h-7zM1116 926h3v1h-3zM1122 926h2v1h-2zM1157 926h1v1h-1zM1162 926h1v1h-1zM1165 926h2v1h-2zM1168 926h5v1h-5zM1175 926h1v1h-1zM1177 926h4v1h-4zM1183 926h1v1h-1zM1188 926h1v1h-1zM1196 926h1v1h-1zM1217 926h1v1h-1zM1228 926h1v1h-1zM1234 926h1v1h-1zM1237 926h3v1h-3zM1242 926h1v1h-1zM1109 927h1v1h-1zM1111 927h1v1h-1zM1113 927h4v1h-4zM1118 927h3v1h-3zM1123 927h1v1h-1zM1135 927h1v1h-1zM1137 927h2v1h-2zM1143 927h1v1h-1zM1146 927h1v1h-1zM1159 927h1v1h-1zM1162 927h10v1h-10zM1173 927h1v1h-1zM1177 927h2v1h-2zM1181 927h7v1h-7zM1189 927h2v1h-2zM1194 927h3v1h-3zM1206 927h1v1h-1zM1208 927h2v1h-2zM1219 927h2v1h-2zM1224 927h3v1h-3zM1228 927h1v1h-1zM1231 927h1v1h-1zM1235 927h1v1h-1zM1237 927h1v1h-1zM1239 927h2v1h-2zM1111 928h15v1h-15zM1129 928h5v1h-5zM1136 928h3v1h-3zM1142 928h1v1h-1zM1148 928h1v1h-1zM1152 928h1v1h-1zM1154 928h2v1h-2zM1157 928h8v1h-8zM1166 928h7v1h-7zM1174 928h1v1h-1zM1176 928h2v1h-2zM1179 928h3v1h-3zM1183 928h1v1h-1zM1185 928h1v1h-1zM1187 928h1v1h-1zM1193 928h1v1h-1zM1208 928h1v1h-1zM1210 928h1v1h-1zM1213 928h3v1h-3zM1218 928h5v1h-5zM1225 928h4v1h-4zM1230 928h1v1h-1zM1113 929h2v1h-2zM1117 929h4v1h-4zM1122 929h12v1h-12zM1135 929h2v1h-2zM1138 929h14v1h-14zM1153 929h5v1h-5zM1159 929h18v1h-18zM1179 929h8v1h-8zM1189 929h7v1h-7zM1198 929h2v1h-2zM1201 929h1v1h-1zM1205 929h1v1h-1zM1207 929h3v1h-3zM1212 929h2v1h-2zM1216 929h6v1h-6zM1223 929h1v1h-1zM1228 929h2v1h-2zM1231 929h1v1h-1zM1117 930h1v1h-1zM1119 930h6v1h-6zM1126 930h3v1h-3zM1130 930h5v1h-5zM1136 930h4v1h-4zM1141 930h7v1h-7zM1149 930h3v1h-3zM1153 930h1v1h-1zM1155 930h4v1h-4zM1161 930h14v1h-14zM1177 930h6v1h-6zM1184 930h13v1h-13zM1198 930h1v1h-1zM1201 930h2v1h-2zM1211 930h2v1h-2zM1217 930h1v1h-1zM1219 930h2v1h-2zM1226 930h1v1h-1zM1228 930h2v1h-2zM1118 931h1v1h-1zM1122 931h4v1h-4zM1128 931h1v1h-1zM1130 931h5v1h-5zM1136 931h4v1h-4zM1141 931h5v1h-5zM1147 931h6v1h-6zM1154 931h2v1h-2zM1158 931h3v1h-3zM1163 931h6v1h-6zM1170 931h13v1h-13zM1184 931h9v1h-9zM1194 931h2v1h-2zM1197 931h3v1h-3zM1202 931h1v1h-1zM1204 931h1v1h-1zM1206 931h1v1h-1zM1209 931h1v1h-1zM1211 931h2v1h-2zM1214 931h2v1h-2zM1217 931h2v1h-2zM1220 931h1v1h-1zM1223 931h1v1h-1zM1121 932h1v1h-1zM1126 932h3v1h-3zM1130 932h2v1h-2zM1133 932h18v1h-18zM1152 932h9v1h-9zM1162 932h24v1h-24zM1187 932h2v1h-2zM1191 932h2v1h-2zM1194 932h2v1h-2zM1197 932h6v1h-6zM1206 932h2v1h-2zM1209 932h2v1h-2zM1212 932h2v1h-2zM1216 932h2v1h-2zM1219 932h2v1h-2zM1128 933h10v1h-10zM1139 933h1v1h-1zM1141 933h10v1h-10zM1152 933h4v1h-4zM1157 933h3v1h-3zM1161 933h29v1h-29zM1191 933h8v1h-8zM1201 933h1v1h-1zM1204 933h1v1h-1zM1209 933h1v1h-1zM1211 933h6v1h-6zM1218 933h2v1h-2zM1128 934h1v1h-1zM1131 934h18v1h-18zM1150 934h6v1h-6zM1157 934h2v1h-2zM1160 934h15v1h-15zM1176 934h15v1h-15zM1192 934h2v1h-2zM1195 934h4v1h-4zM1201 934h1v1h-1zM1205 934h2v1h-2zM1209 934h4v1h-4zM1214 934h4v1h-4zM1219 934h1v1h-1zM1132 935h1v1h-1zM1135 935h26v1h-26zM1163 935h5v1h-5zM1170 935h6v1h-6zM1177 935h13v1h-13zM1191 935h3v1h-3zM1195 935h3v1h-3zM1199 935h5v1h-5zM1205 935h1v1h-1zM1207 935h2v1h-2zM1210 935h4v1h-4zM1216 935h1v1h-1zM1134 936h1v1h-1zM1137 936h8v1h-8zM1148 936h14v1h-14zM1163 936h9v1h-9zM1173 936h1v1h-1zM1175 936h19v1h-19zM1195 936h1v1h-1zM1197 936h8v1h-8zM1206 936h2v1h-2zM1210 936h1v1h-1zM1214 936h1v1h-1zM1137 937h1v1h-1zM1139 937h4v1h-4zM1144 937h3v1h-3zM1148 937h6v1h-6zM1155 937h20v1h-20zM1176 937h2v1h-2zM1179 937h3v1h-3zM1183 937h3v1h-3zM1187 937h4v1h-4zM1192 937h3v1h-3zM1196 937h1v1h-1zM1198 937h2v1h-2zM1201 937h1v1h-1zM1204 937h2v1h-2zM1207 937h1v1h-1zM1142 938h5v1h-5zM1148 938h6v1h-6zM1155 938h1v1h-1zM1157 938h20v1h-20zM1178 938h3v1h-3zM1182 938h12v1h-12zM1195 938h5v1h-5zM1201 938h1v1h-1zM1204 938h1v1h-1zM1206 938h1v1h-1zM1210 938h1v1h-1zM1145 939h5v1h-5zM1151 939h16v1h-16zM1168 939h8v1h-8zM1179 939h4v1h-4zM1184 939h5v1h-5zM1190 939h9v1h-9zM1200 939h1v1h-1zM1204 939h3v1h-3zM1144 940h1v1h-1zM1147 940h23v1h-23zM1171 940h4v1h-4zM1176 940h11v1h-11zM1188 940h11v1h-11zM1201 940h2v1h-2zM1205 940h1v1h-1zM1207 940h1v1h-1zM1149 941h19v1h-19zM1169 941h2v1h-2zM1172 941h21v1h-21zM1194 941h3v1h-3zM1199 941h2v1h-2zM1202 941h2v1h-2zM1207 941h1v1h-1zM1149 942h1v1h-1zM1151 942h2v1h-2zM1155 942h18v1h-18zM1174 942h30v1h-30zM1147 943h1v1h-1zM1149 943h2v1h-2zM1152 943h9v1h-9zM1162 943h14v1h-14zM1177 943h15v1h-15zM1193 943h12v1h-12zM1206 943h2v1h-2zM1146 944h1v1h-1zM1149 944h1v1h-1zM1152 944h2v1h-2zM1155 944h6v1h-6zM1162 944h6v1h-6zM1169 944h4v1h-4zM1174 944h1v1h-1zM1176 944h6v1h-6zM1183 944h7v1h-7zM1191 944h13v1h-13zM1205 944h1v1h-1zM1148 945h4v1h-4zM1158 945h6v1h-6zM1165 945h2v1h-2zM1168 945h3v1h-3zM1172 945h11v1h-11zM1184 945h13v1h-13zM1198 945h4v1h-4zM1203 945h2v1h-2zM1206 945h1v1h-1zM1146 946h1v1h-1zM1148 946h4v1h-4zM1153 946h1v1h-1zM1155 946h6v1h-6zM1162 946h3v1h-3zM1166 946h20v1h-20zM1188 946h1v1h-1zM1190 946h2v1h-2zM1193 946h4v1h-4zM1199 946h4v1h-4zM1204 946h4v1h-4zM1146 947h3v1h-3zM1150 947h2v1h-2zM1153 947h1v1h-1zM1155 947h12v1h-12zM1168 947h5v1h-5zM1175 947h25v1h-25zM1201 947h3v1h-3zM1205 947h1v1h-1zM1207 947h1v1h-1zM1149 948h2v1h-2zM1152 948h2v1h-2zM1155 948h3v1h-3zM1159 948h19v1h-19zM1179 948h12v1h-12zM1192 948h8v1h-8zM1147 949h1v1h-1zM1149 949h2v1h-2zM1152 949h3v1h-3zM1156 949h2v1h-2zM1159 949h4v1h-4zM1164 949h5v1h-5zM1170 949h9v1h-9zM1180 949h17v1h-17zM1198 949h1v1h-1zM1201 949h1v1h-1zM1203 949h1v1h-1zM1206 949h2v1h-2zM1148 950h1v1h-1zM1150 950h2v1h-2zM1153 950h9v1h-9zM1163 950h5v1h-5zM1169 950h6v1h-6zM1176 950h3v1h-3zM1180 950h17v1h-17zM1199 950h6v1h-6zM1150 951h10v1h-10zM1161 951h4v1h-4zM1166 951h26v1h-26zM1193 951h3v1h-3zM1197 951h1v1h-1zM1200 951h5v1h-5zM1147 952h1v1h-1zM1149 952h1v1h-1zM1152 952h4v1h-4zM1157 952h16v1h-16zM1174 952h4v1h-4zM1179 952h15v1h-15zM1195 952h1v1h-1zM1197 952h1v1h-1zM1199 952h4v1h-4zM1205 952h1v1h-1zM1148 953h1v1h-1zM1151 953h2v1h-2zM1155 953h24v1h-24zM1180 953h4v1h-4zM1185 953h10v1h-10zM1196 953h8v1h-8zM1148 954h2v1h-2zM1152 954h1v1h-1zM1154 954h44v1h-44zM1199 954h3v1h-3zM1156 955h2v1h-2zM1159 955h5v1h-5zM1165 955h1v1h-1zM1167 955h6v1h-6zM1174 955h21v1h-21zM1196 955h4v1h-4zM1203 955h2v1h-2zM1149 956h5v1h-5zM1155 956h2v1h-2zM1158 956h3v1h-3zM1162 956h8v1h-8zM1171 956h10v1h-10zM1182 956h11v1h-11zM1194 956h4v1h-4zM1199 956h2v1h-2zM1204 956h1v1h-1zM1149 957h1v1h-1zM1151 957h1v1h-1zM1153 957h3v1h-3zM1157 957h1v1h-1zM1161 957h1v1h-1zM1163 957h32v1h-32zM1196 957h3v1h-3zM1200 957h1v1h-1zM1151 958h3v1h-3zM1156 958h1v1h-1zM1158 958h2v1h-2zM1162 958h1v1h-1zM1164 958h4v1h-4zM1169 958h3v1h-3zM1173 958h2v1h-2zM1176 958h13v1h-13zM1190 958h13v1h-13zM1152 959h1v1h-1zM1154 959h2v1h-2zM1159 959h4v1h-4zM1164 959h4v1h-4zM1169 959h9v1h-9zM1179 959h22v1h-22zM1157 960h1v1h-1zM1159 960h12v1h-12zM1172 960h11v1h-11zM1184 960h12v1h-12zM1197 960h2v1h-2zM1200 960h3v1h-3zM1153 961h1v1h-1zM1155 961h1v1h-1zM1157 961h2v1h-2zM1160 961h2v1h-2zM1163 961h4v1h-4zM1169 961h10v1h-10zM1180 961h3v1h-3zM1184 961h5v1h-5zM1190 961h14v1h-14zM1153 962h1v1h-1zM1157 962h3v1h-3zM1161 962h5v1h-5zM1167 962h1v1h-1zM1170 962h8v1h-8zM1180 962h1v1h-1zM1182 962h6v1h-6zM1189 962h5v1h-5zM1195 962h4v1h-4zM1200 962h3v1h-3zM1155 963h1v1h-1zM1158 963h4v1h-4zM1163 963h8v1h-8zM1172 963h1v1h-1zM1175 963h2v1h-2zM1178 963h6v1h-6zM1185 963h1v1h-1zM1188 963h18v1h-18zM1154 964h1v1h-1zM1158 964h1v1h-1zM1160 964h1v1h-1zM1163 964h3v1h-3zM1167 964h2v1h-2zM1170 964h14v1h-14zM1186 964h2v1h-2zM1190 964h3v1h-3zM1194 964h4v1h-4zM1200 964h5v1h-5zM1156 965h1v1h-1zM1160 965h1v1h-1zM1162 965h7v1h-7zM1171 965h6v1h-6zM1178 965h4v1h-4zM1183 965h1v1h-1zM1186 965h3v1h-3zM1191 965h7v1h-7zM1199 965h1v1h-1zM1202 965h1v1h-1zM1204 965h1v1h-1zM1206 965h1v1h-1zM1156 966h1v1h-1zM1160 966h3v1h-3zM1167 966h2v1h-2zM1170 966h20v1h-20zM1191 966h1v1h-1zM1193 966h13v1h-13zM1158 967h1v1h-1zM1163 967h1v1h-1zM1167 967h1v1h-1zM1169 967h1v1h-1zM1171 967h1v1h-1zM1173 967h1v1h-1zM1175 967h2v1h-2zM1180 967h3v1h-3zM1184 967h1v1h-1zM1187 967h1v1h-1zM1189 967h2v1h-2zM1193 967h10v1h-10zM1206 967h1v1h-1zM1154 968h1v1h-1zM1156 968h4v1h-4zM1162 968h3v1h-3zM1167 968h2v1h-2zM1176 968h1v1h-1zM1179 968h1v1h-1zM1181 968h1v1h-1zM1183 968h2v1h-2zM1193 968h1v1h-1zM1195 968h6v1h-6zM1203 968h4v1h-4zM1150 969h1v1h-1zM1155 969h1v1h-1zM1159 969h3v1h-3zM1170 969h1v1h-1zM1176 969h2v1h-2zM1179 969h1v1h-1zM1195 969h1v1h-1zM1197 969h1v1h-1zM1199 969h5v1h-5zM1205 969h1v1h-1zM1207 969h1v1h-1zM1151 970h3v1h-3zM1156 970h1v1h-1zM1158 970h3v1h-3zM1172 970h1v1h-1zM1174 970h1v1h-1zM1176 970h3v1h-3zM1180 970h1v1h-1zM1183 970h1v1h-1zM1196 970h1v1h-1zM1198 970h5v1h-5zM1204 970h4v1h-4zM1153 971h1v1h-1zM1156 971h1v1h-1zM1158 971h2v1h-2zM1197 971h1v1h-1zM1199 971h3v1h-3zM1206 971h5v1h-5zM1148 972h1v1h-1zM1150 972h1v1h-1zM1153 972h1v1h-1zM1155 972h1v1h-1zM1160 972h1v1h-1zM1199 972h1v1h-1zM1202 972h8v1h-8zM1150 973h1v1h-1zM1152 973h3v1h-3zM1159 973h1v1h-1zM1200 973h4v1h-4zM1205 973h6v1h-6zM1151 974h2v1h-2zM1155 974h1v1h-1zM1204 974h1v1h-1zM1208 974h3v1h-3zM1212 974h1v1h-1zM1146 975h1v1h-1zM1148 975h4v1h-4zM1155 975h1v1h-1zM1202 975h1v1h-1zM1205 975h8v1h-8zM1148 976h2v1h-2zM1151 976h1v1h-1zM1153 976h1v1h-1zM1204 976h2v1h-2zM1209 976h1v1h-1zM1211 976h2v1h-2zM1214 976h1v1h-1zM1145 977h1v1h-1zM1147 977h1v1h-1zM1151 977h1v1h-1zM1209 977h5v1h-5zM1151 978h1v1h-1zM1153 978h1v1h-1zM1210 978h2v1h-2zM1214 978h1v1h-1zM1146 979h1v1h-1zM1150 979h1v1h-1zM1152 979h1v1h-1zM1209 979h2v1h-2zM1212 979h1v1h-1zM1214 979h3v1h-3zM1145 980h1v1h-1zM1147 980h3v1h-3zM1212 980h3v1h-3zM1144 981h2v1h-2zM1210 981h1v1h-1zM1214 981h4v1h-4zM1144 982h1v1h-1zM1146 982h1v1h-1zM1214 982h3v1h-3zM1144 983h1v1h-1zM1148 983h1v1h-1zM1215 983h4v1h-4zM1216 984h4v1h-4zM1141 985h1v1h-1zM1218 985h4v1h-4zM1141 986h1v1h-1zM1218 986h5v1h-5zM1138 987h1v1h-1zM1140 987h1v1h-1zM1220 987h3v1h-3zM1221 988h3v1h-3zM1142 989h1v1h-1zM1220 989h1v1h-1zM1222 989h2v1h-2zM1222 990h3v1h-3zM1224 991h1v1h-1zM1223 992h1v1h-1z"/><path fill="none" stroke="#000" stroke-width="1.9" stroke-linejoin="bevel" d="M1173.5,881 V860 L1190,881 V860"/></g><use href="#star" transform="translate(-508,294)"/><clipPath id="rc"><path clip-rule="evenodd" d="M0,0 H1308 V1824 H0 Z M391.64,1265.6 A267.56,279 0 1 0 926.76,1265.6 A267.56,279 0 1 0 391.64,1265.6 Z M433.84,1265.6 A225.36,235 0 1 0 884.57,1265.6 A225.36,235 0 1 0 433.84,1265.6 Z"/></clipPath><path clip-path="url(#rc)" d="M818.3,858.4 L472.3,1751.7" stroke="#ff0000" stroke-width="1.05" fill="none"/><g font-family="Liberation Sans, sans-serif" font-weight="bold" fill="#ff0000" font-size="27.5"><text x="793.9" y="994.9" text-anchor="middle">22</text><text x="578.5" y="1563" text-anchor="middle">202</text></g><rect x="942.8" y="1103" width="1.3" height="463.6" fill="url(#vg)"/></svg>
</body></html>
